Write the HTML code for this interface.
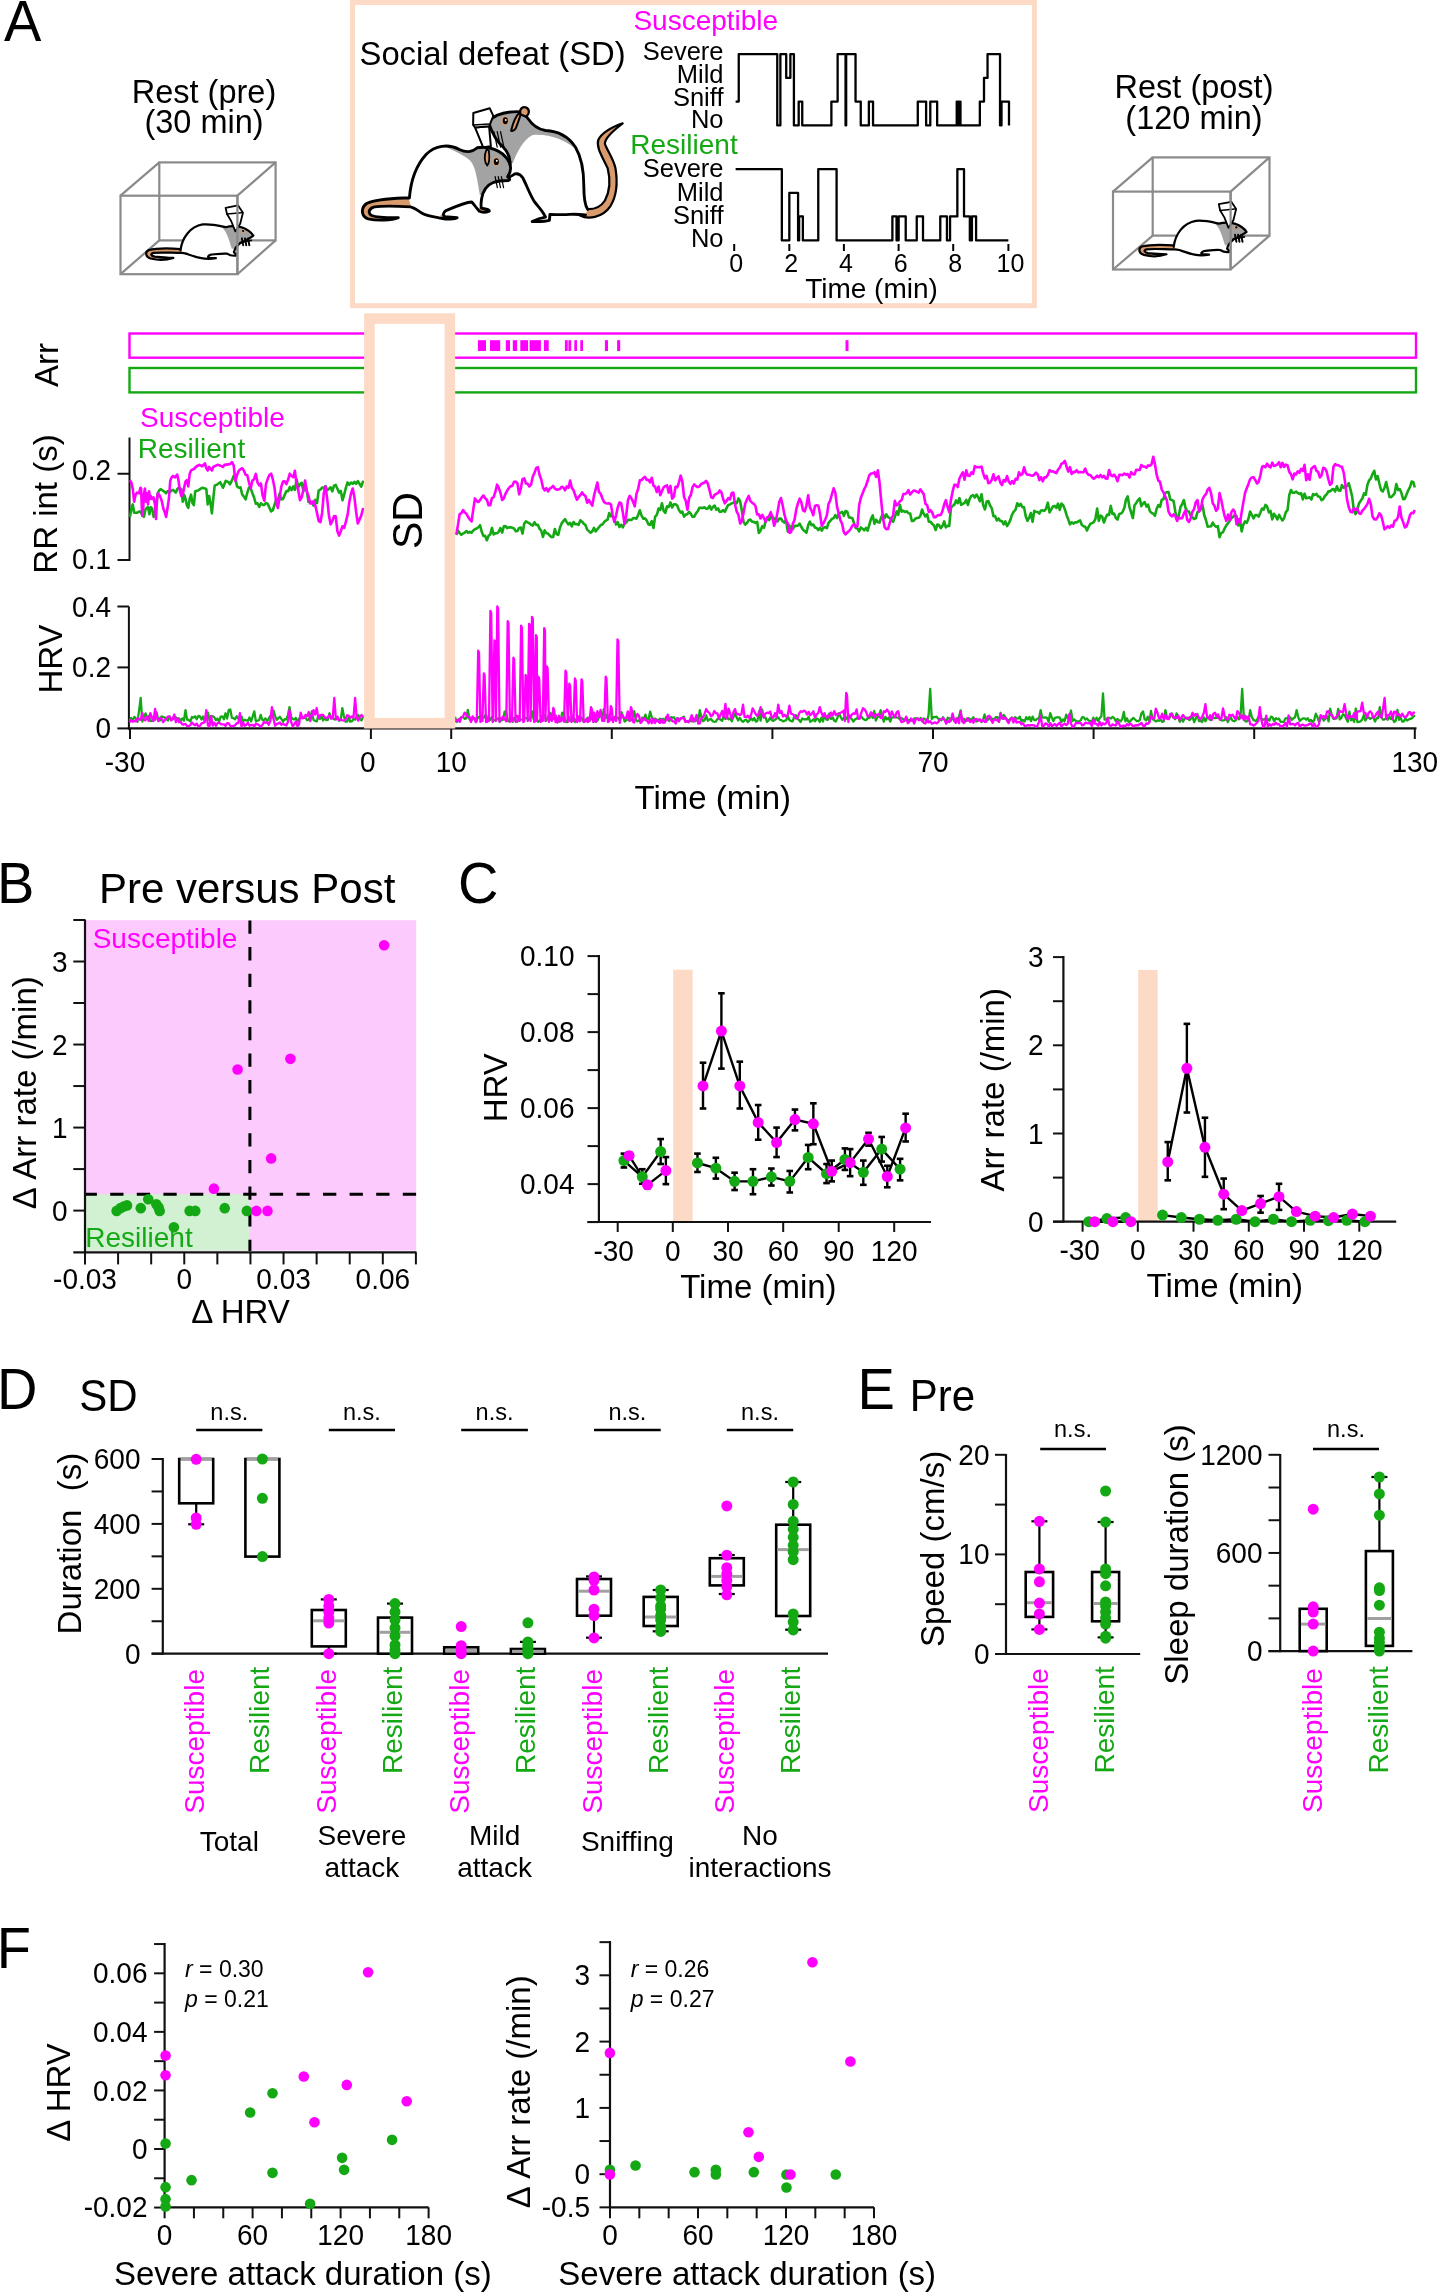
<!DOCTYPE html>
<html><head><meta charset="utf-8"><style>
html,body{margin:0;padding:0;background:#fff;}
svg{display:block;will-change:transform;}
text{font-family:"Liberation Sans", sans-serif;}
</style></head><body>
<svg width="1441" height="2295" viewBox="0 0 1441 2295">
<rect width="1441" height="2295" fill="#fff"/>
<text x="0" y="0" font-size="56" text-anchor="start" fill="#000" transform="translate(4,40.8) scale(1,1.04)">A</text>
<text x="204" y="103" font-size="32.5" text-anchor="middle" fill="#000">Rest (pre)</text>
<text x="204" y="132.9" font-size="32.5" text-anchor="middle" fill="#000">(30 min)</text>
<text x="1194" y="98.4" font-size="32.5" text-anchor="middle" fill="#000">Rest (post)</text>
<text x="1194" y="128.5" font-size="32.5" text-anchor="middle" fill="#000">(120 min)</text>
<rect x="159.3" y="162.4" width="116.3" height="78" fill="none" stroke="#8a8a8a" stroke-width="2.2"/>
<rect x="120.5" y="195.7" width="116.9" height="78.5" fill="none" stroke="#8a8a8a" stroke-width="2.2"/>
<line x1="120.5" y1="195.7" x2="159.3" y2="162.4" stroke="#8a8a8a" stroke-width="2.2"/>
<line x1="237.4" y1="195.7" x2="275.6" y2="162.4" stroke="#8a8a8a" stroke-width="2.2"/>
<line x1="120.5" y1="274.2" x2="159.3" y2="240.4" stroke="#8a8a8a" stroke-width="2.2"/>
<line x1="237.4" y1="274.2" x2="275.6" y2="240.4" stroke="#8a8a8a" stroke-width="2.2"/>
<rect x="1152.7" y="157.4" width="116.8" height="78.2" fill="none" stroke="#8a8a8a" stroke-width="2.2"/>
<rect x="1113" y="191.6" width="117.6" height="77.9" fill="none" stroke="#8a8a8a" stroke-width="2.2"/>
<line x1="1113" y1="191.6" x2="1152.7" y2="157.4" stroke="#8a8a8a" stroke-width="2.2"/>
<line x1="1230.6" y1="191.6" x2="1269.5" y2="157.4" stroke="#8a8a8a" stroke-width="2.2"/>
<line x1="1113" y1="269.5" x2="1152.7" y2="235.6" stroke="#8a8a8a" stroke-width="2.2"/>
<line x1="1230.6" y1="269.5" x2="1269.5" y2="235.6" stroke="#8a8a8a" stroke-width="2.2"/>
<rect x="352.5" y="2.5" width="681.9" height="303.2" fill="none" stroke="#FDDAC6" stroke-width="5"/>
<text x="359.5" y="65" font-size="32.8" text-anchor="start" fill="#000">Social defeat (SD)</text>
<text x="633.4" y="30" font-size="28" text-anchor="start" fill="#FF00FF">Susceptible</text>
<text x="630.3" y="154.2" font-size="28" text-anchor="start" fill="#14A914">Resilient</text>
<text x="723.5" y="59.6" font-size="25.5" text-anchor="end" fill="#000">Severe</text>
<text x="723.5" y="83.1" font-size="25.5" text-anchor="end" fill="#000">Mild</text>
<text x="723.5" y="106" font-size="25.5" text-anchor="end" fill="#000">Sniff</text>
<text x="723.5" y="128.3" font-size="25.5" text-anchor="end" fill="#000">No</text>
<text x="723.5" y="177.2" font-size="25.5" text-anchor="end" fill="#000">Severe</text>
<text x="723.5" y="200.7" font-size="25.5" text-anchor="end" fill="#000">Mild</text>
<text x="723.5" y="223.6" font-size="25.5" text-anchor="end" fill="#000">Sniff</text>
<text x="723.5" y="246.5" font-size="25.5" text-anchor="end" fill="#000">No</text>
<polyline points="735.62,101.6 738.74,101.6 738.74,54.2 777.26,54.2 777.26,125.4 780.38,125.4 780.38,54.2 786.21,54.2 786.21,77.9 790.37,77.9 790.37,54.2 793.91,54.2 793.91,125.4 798.7,125.4 798.7,101.6 802.24,101.6 802.24,125.4 831.39,125.4 831.39,101.6 837.63,101.6 837.63,54.2 845.55,54.2 845.55,125.4 846.17,125.4 846.17,54.2 855.54,54.2 855.54,101.6 860.75,101.6 860.75,125.4 868.87,125.4 868.87,101.6 873.03,101.6 873.03,125.4 917.79,125.4 917.79,101.6 926.12,101.6 926.12,125.4 930.29,125.4 930.29,101.6 937.16,101.6 937.16,125.4 956.73,125.4 956.73,101.6 957.98,101.6 957.98,125.4 959.23,125.4 959.23,101.6 960.47,101.6 960.47,125.4 979.84,125.4 979.84,101.6 984,101.6 984,77.9 987.54,77.9 987.54,54.2 1000.03,54.2 1000.03,125.4 1001.49,125.4 1001.49,101.6 1008.99,101.6 1008.99,125.4" fill="none" stroke="#000" stroke-width="2.3" stroke-linejoin="round" stroke-linejoin="miter" stroke-linecap="butt"/>
<polyline points="735.62,169.2 781.84,169.2 781.84,240.4 789.33,240.4 789.33,192.9 798.08,192.9 798.08,240.4 799.12,240.4 799.12,216.4 802.86,216.4 802.86,240.4 818.27,240.4 818.27,169.2 836.59,169.2 836.59,240.4 892.39,240.4 892.39,216.4 896.56,216.4 896.56,240.4 898.64,240.4 898.64,216.4 905.72,216.4 905.72,240.4 916.75,240.4 916.75,216.4 923,216.4 923,240.4 940.28,240.4 940.28,216.4 946.94,216.4 946.94,240.4 950.06,240.4 950.06,216.4 957.35,216.4 957.35,169.2 964.01,169.2 964.01,216.4 969.84,216.4 969.84,240.4 971.93,240.4 971.93,216.4 976.09,216.4 976.09,240.4 1008.36,240.4" fill="none" stroke="#000" stroke-width="2.3" stroke-linejoin="round" stroke-linejoin="miter" stroke-linecap="butt"/>
<line x1="734.2" y1="244" x2="734.2" y2="251" stroke="#000" stroke-width="2"/>
<text x="0" y="0" font-size="25" text-anchor="middle" fill="#000" transform="translate(736.2,271.8) scale(1,1.04)">0</text>
<line x1="789.3" y1="244" x2="789.3" y2="251" stroke="#000" stroke-width="2"/>
<text x="0" y="0" font-size="25" text-anchor="middle" fill="#000" transform="translate(791.3,271.8) scale(1,1.04)">2</text>
<line x1="843.9" y1="244" x2="843.9" y2="251" stroke="#000" stroke-width="2"/>
<text x="0" y="0" font-size="25" text-anchor="middle" fill="#000" transform="translate(845.9,271.8) scale(1,1.04)">4</text>
<line x1="898.6" y1="244" x2="898.6" y2="251" stroke="#000" stroke-width="2"/>
<text x="0" y="0" font-size="25" text-anchor="middle" fill="#000" transform="translate(900.6,271.8) scale(1,1.04)">6</text>
<line x1="953.2" y1="244" x2="953.2" y2="251" stroke="#000" stroke-width="2"/>
<text x="0" y="0" font-size="25" text-anchor="middle" fill="#000" transform="translate(955.2,271.8) scale(1,1.04)">8</text>
<line x1="1008.4" y1="244" x2="1008.4" y2="251" stroke="#000" stroke-width="2"/>
<text x="0" y="0" font-size="25" text-anchor="middle" fill="#000" transform="translate(1010.4,271.8) scale(1,1.04)">10</text>
<text x="871.5" y="297.7" font-size="28" text-anchor="middle" fill="#000">Time (min)</text>
<rect x="129.5" y="333.5" width="1286.5" height="24.2" fill="none" stroke="#FF00FF" stroke-width="2.4"/>
<rect x="129.5" y="368" width="1286.5" height="24.4" fill="none" stroke="#14A914" stroke-width="2.4"/>
<rect x="477.9" y="340.2" width="8.1" height="10.8" fill="#FF00FF" stroke="none" stroke-width="0"/>
<rect x="490" y="340.2" width="10.2" height="10.8" fill="#FF00FF" stroke="none" stroke-width="0"/>
<rect x="505.8" y="340.2" width="4.2" height="10.8" fill="#FF00FF" stroke="none" stroke-width="0"/>
<rect x="512.8" y="340.2" width="4.3" height="10.8" fill="#FF00FF" stroke="none" stroke-width="0"/>
<rect x="520.3" y="340.2" width="7.8" height="10.8" fill="#FF00FF" stroke="none" stroke-width="0"/>
<rect x="529.6" y="340.2" width="11.3" height="10.8" fill="#FF00FF" stroke="none" stroke-width="0"/>
<rect x="543.9" y="340.2" width="4.8" height="10.8" fill="#FF00FF" stroke="none" stroke-width="0"/>
<rect x="564.9" y="340.2" width="2.8" height="10.8" fill="#FF00FF" stroke="none" stroke-width="0"/>
<rect x="568.4" y="340.2" width="2.8" height="10.8" fill="#FF00FF" stroke="none" stroke-width="0"/>
<rect x="574.3" y="340.2" width="2.7" height="10.8" fill="#FF00FF" stroke="none" stroke-width="0"/>
<rect x="580.3" y="340.2" width="2.7" height="10.8" fill="#FF00FF" stroke="none" stroke-width="0"/>
<rect x="604.9" y="340.2" width="3.1" height="10.8" fill="#FF00FF" stroke="none" stroke-width="0"/>
<rect x="617.1" y="340.2" width="3.1" height="10.8" fill="#FF00FF" stroke="none" stroke-width="0"/>
<rect x="845.5" y="340.2" width="3" height="10.8" fill="#FF00FF" stroke="none" stroke-width="0"/>
<text x="0" y="0" font-size="33" text-anchor="middle" fill="#000" transform="translate(57.5,365) rotate(-90)">Arr</text>
<text x="140.05" y="426.9" font-size="28" text-anchor="start" fill="#FF00FF">Susceptible</text>
<text x="137.8" y="457.5" font-size="28" text-anchor="start" fill="#14A914">Resilient</text>
<line x1="129.5" y1="437.5" x2="129.5" y2="561" stroke="#111" stroke-width="2"/>
<line x1="117.5" y1="473.75" x2="129.5" y2="473.75" stroke="#111" stroke-width="2"/>
<line x1="117.5" y1="560" x2="129.5" y2="560" stroke="#111" stroke-width="2"/>
<text x="0" y="0" font-size="28" text-anchor="end" fill="#000" transform="translate(111,480.3) scale(1,1.04)">0.2</text>
<text x="0" y="0" font-size="28" text-anchor="end" fill="#000" transform="translate(111,568.6) scale(1,1.04)">0.1</text>
<text x="0" y="0" font-size="33" text-anchor="middle" fill="#000" transform="translate(57,504) rotate(-90)">RR int (s)</text>
<line x1="128.9" y1="606.5" x2="128.9" y2="729.5" stroke="#111" stroke-width="2"/>
<line x1="117.4" y1="606.5" x2="128.9" y2="606.5" stroke="#111" stroke-width="2"/>
<text x="0" y="0" font-size="28" text-anchor="end" fill="#000" transform="translate(111,616.5) scale(1,1.04)">0.4</text>
<line x1="117.4" y1="667.4" x2="128.9" y2="667.4" stroke="#111" stroke-width="2"/>
<text x="0" y="0" font-size="28" text-anchor="end" fill="#000" transform="translate(111,677.4) scale(1,1.04)">0.2</text>
<line x1="117.4" y1="728.4" x2="128.9" y2="728.4" stroke="#111" stroke-width="2"/>
<text x="0" y="0" font-size="28" text-anchor="end" fill="#000" transform="translate(111,738.4) scale(1,1.04)">0</text>
<text x="0" y="0" font-size="33" text-anchor="middle" fill="#000" transform="translate(61.5,659) rotate(-90)">HRV</text>
<line x1="128" y1="728.4" x2="1416.5" y2="728.4" stroke="#111" stroke-width="2.2"/>
<line x1="130" y1="728.4" x2="130" y2="739" stroke="#111" stroke-width="2"/>
<line x1="370.9" y1="728.4" x2="370.9" y2="739" stroke="#111" stroke-width="2"/>
<line x1="451.2" y1="728.4" x2="451.2" y2="739" stroke="#111" stroke-width="2"/>
<line x1="611.8" y1="728.4" x2="611.8" y2="739" stroke="#111" stroke-width="2"/>
<line x1="772.4" y1="728.4" x2="772.4" y2="739" stroke="#111" stroke-width="2"/>
<line x1="933" y1="728.4" x2="933" y2="739" stroke="#111" stroke-width="2"/>
<line x1="1093.6" y1="728.4" x2="1093.6" y2="739" stroke="#111" stroke-width="2"/>
<line x1="1254.2" y1="728.4" x2="1254.2" y2="739" stroke="#111" stroke-width="2"/>
<line x1="1414.8" y1="728.4" x2="1414.8" y2="739" stroke="#111" stroke-width="2"/>
<text x="0" y="0" font-size="28" text-anchor="middle" fill="#000" transform="translate(125,772) scale(1,1.04)">-30</text>
<text x="0" y="0" font-size="28" text-anchor="middle" fill="#000" transform="translate(367.9,772) scale(1,1.04)">0</text>
<text x="0" y="0" font-size="28" text-anchor="middle" fill="#000" transform="translate(451.2,772) scale(1,1.04)">10</text>
<text x="0" y="0" font-size="28" text-anchor="middle" fill="#000" transform="translate(933,772) scale(1,1.04)">70</text>
<text x="0" y="0" font-size="28" text-anchor="middle" fill="#000" transform="translate(1414.8,772) scale(1,1.04)">130</text>
<text x="712.8" y="808.6" font-size="33" text-anchor="middle" fill="#000">Time (min)</text>
<polyline points="130,516.9 131.39,508.58 132.78,504.41 134.16,512.74 136.94,512.74 139.72,511.35 141.1,512.74 142.49,515.52 143.88,516.9 145.27,509.97 146.66,507.88 148.04,507.19 149.43,514.13 150.82,507.19 152.21,508.58 153.59,516.9 154.98,512.74 156.37,504.41 157.76,493.31 159.15,490.53 160.53,489.15 162.62,490.53 164.7,491.92 166.09,493.31 167.47,491.23 170.25,491.92 171.64,490.53 173.03,489.84 175.8,492.62 177.19,489.15 178.58,487.76 181.35,489.15 182.74,501.64 184.13,494.7 185.52,498.86 186.9,505.11 188.29,507.88 189.68,498.86 191.07,494.7 192.46,503.03 193.84,505.11 195.23,491.23 198.01,490.53 200.09,489.15 202.17,487.76 204.95,488.45 206.34,489.15 207.72,504.41 209.11,496.09 210.5,503.03 211.89,513.44 213.28,498.86 214.66,485.68 217.44,484.29 220.22,482.21 222.99,487.76 225.77,480.82 228.54,482.21 229.93,484.29 232,480.39 233.7,475.89 235.4,479.38 237.1,486.51 238.8,487.76 240.5,487.3 242.2,494.54 243.9,496.63 245.6,499.43 247.3,492.68 249,487.58 250.7,488.4 252.4,493.16 254.1,497.51 255.8,503.75 257.5,503.27 259.2,506.95 260.9,503.3 262.6,504.84 264.3,504.84 266,502.86 267.7,503.79 269.4,507.75 271.1,511.46 272.8,510.29 274.5,504.76 276.2,499.52 277.9,500.21 279.6,493.83 281.3,499.4 283,499.05 284.7,495.04 286.4,491 288.1,491.18 289.8,487.04 291.5,490.18 293.2,486.45 294.9,489.93 296.6,479.53 298.3,487.34 300,484.48 301.7,482.78 303.4,491.06 305.1,484.4 306.8,490.61 308.5,502.01 310.2,501.48 311.9,502.26 313.6,505.58 315.3,499.88 317,503.2 318.7,490.36 320.4,489.6 322.1,487.55 323.8,488.12 325.5,486.04 327.2,490.23 328.9,488.92 330.6,487.28 332.3,491.34 334,485.62 335.7,484.95 337.4,488.82 339.1,492.64 340.8,490.9 342.5,500.33 344.2,494.44 345.9,487.57 347.6,482.42 349.3,484.67 351,482.67 352.7,483.72 354.4,481.97 356.1,483.8 357.8,481.08 359.5,483.76 361.2,486.7 362.9,481.76 363.57,482.46" fill="none" stroke="#14A914" stroke-width="2.6" stroke-linejoin="round"/>
<polyline points="456.25,534.97 457.95,530.36 459.65,533.06 461.35,534.78 463.05,533.55 464.75,532.67 466.45,531.02 468.15,532.79 469.85,531.85 471.55,532.73 473.25,530.58 474.95,529.25 476.65,528.47 478.35,527.22 480.05,525.22 481.75,531.84 483.45,535.97 485.15,535.92 486.85,540.23 488.55,535.85 490.25,534.47 491.95,527.93 493.65,534.43 495.35,533.31 497.05,533.16 498.75,531.67 500.45,528.19 502.15,532.55 503.85,526.4 505.55,526.1 507.25,528.18 508.95,527.33 510.65,527.3 512.35,527.81 514.05,528.41 515.75,531.26 517.45,530.92 519.15,527.95 520.85,527.59 522.55,533.62 524.25,523.48 525.95,521.42 527.65,522.45 529.35,523.28 531.05,524.63 532.75,525.66 534.45,522.28 536.15,524.89 537.85,524.73 539.55,528.69 541.25,530.72 542.95,536.98 544.65,530.37 546.35,533.16 548.05,533.55 549.75,535.53 551.45,537.08 553.15,537.06 554.85,528.96 556.55,534.06 558.25,534.86 559.95,527.78 561.65,523.37 563.35,521.15 565.05,519.07 566.75,522.19 568.45,524.37 570.15,522.84 571.85,526.39 573.55,522.01 575.25,524.15 576.95,524.11 578.65,524.82 580.35,520.26 582.05,521.67 583.75,523.66 585.45,525.06 587.15,529.58 588.85,531.15 590.55,532.68 592.25,531.41 593.95,527.92 595.65,531.49 597.35,529.07 599.05,527.09 600.75,525.01 602.45,524.44 604.15,522.04 605.85,520.53 607.55,519.59 609.25,513.11 610.95,516.26 612.65,515.84 614.35,518.5 616.05,524.61 617.75,522.24 619.45,527.02 621.15,524.78 622.85,527.33 624.55,523.56 626.25,522.49 627.95,519.89 629.65,519.78 631.35,520.06 633.05,518.34 634.75,518.02 636.45,518.76 638.15,514.9 639.85,510.27 641.55,515.73 643.25,518.71 644.95,518.32 646.65,520.35 648.35,524.35 650.05,525.01 651.75,521.12 653.45,528 655.15,516.62 656.85,514.88 658.55,508.56 660.25,509.93 661.95,503.3 663.65,510.96 665.35,512.87 667.05,506.3 668.75,506.9 670.45,502.41 672.15,507.48 673.85,504.35 675.55,504.23 677.25,505.6 678.95,510.11 680.65,512.53 682.35,511.57 684.05,516.64 685.75,514.71 687.45,514.03 689.15,511.9 690.85,513.95 692.55,516.83 694.25,516.66 695.95,513.35 697.65,511.2 699.35,507.86 701.05,507.75 702.75,507.96 704.45,507.3 706.15,508.74 707.85,508.46 709.55,505.91 711.25,509.56 712.95,506.97 714.65,505.57 716.35,509.72 718.05,508.46 719.75,511.83 721.45,511.67 723.15,510.05 724.85,511.85 726.55,508.07 728.25,504.93 729.95,504.51 731.65,503.35 733.35,502.6 735.05,502.28 736.75,503.37 738.45,498.44 740.15,501.27 741.85,510.72 743.55,522.13 745.25,524.61 746.95,523.07 748.65,520.12 750.35,519.59 752.05,521.6 753.75,521.86 755.45,522.89 757.15,521.92 758.85,532.98 760.55,530.64 762.25,526.17 763.95,527.9 765.65,521.02 767.35,518.61 769.05,520.16 770.75,517.21 772.45,516.55 774.15,518.88 775.85,519.1 777.55,521.46 779.25,518.58 780.95,518.53 782.65,521.25 784.35,522.59 786.05,519.66 787.75,531.57 789.45,525.55 791.15,529.51 792.85,529.13 794.55,525.87 796.25,525.86 797.95,525.55 799.65,523.65 801.35,526.99 803.05,529.84 804.75,531.21 806.45,532.72 808.15,525.35 809.85,521.59 811.55,525.25 813.25,524.49 814.95,527.51 816.65,527.99 818.35,530.07 820.05,527.78 821.75,530.7 823.45,527.66 825.15,527.09 826.85,528.16 828.55,522.79 830.25,521 831.95,518.88 833.65,518.06 835.35,515.18 837.05,518.08 838.75,513.75 840.45,512.87 842.15,511.8 843.85,515.86 845.55,511.03 847.25,511.69 848.95,517.35 850.65,517.61 852.35,518.31 854.05,522.94 855.75,528.11 857.45,528.53 859.15,531.33 860.85,527.43 862.55,528.68 864.25,530.36 865.95,527.93 867.65,530.54 869.35,524.57 871.05,518.77 872.75,515.45 874.45,523.77 876.15,519.71 877.85,522.19 879.55,522.51 881.25,517.07 882.95,514.23 884.65,518.13 886.35,514.4 888.05,517.08 889.75,518.02 891.45,520.27 893.15,521.86 894.85,516.91 896.55,511.35 898.25,514.81 899.95,505.09 901.65,511.68 903.35,510.77 905.05,512.04 906.75,511.28 908.45,513.25 910.15,513.57 911.85,521.08 913.55,520.9 915.25,518.73 916.95,518 918.65,517.81 920.35,515.97 922.05,509.47 923.75,514 925.45,516.46 927.15,514.28 928.85,521.67 930.55,521.81 932.25,523.9 933.95,525.54 935.65,530.02 937.35,524.5 939.05,525.03 940.75,528.25 942.45,525.87 944.15,521.36 945.85,527.39 947.55,525.89 949.25,525.95 950.95,507.82 952.65,505.79 954.35,504.73 956.05,500.41 957.75,503.13 959.45,498.12 961.15,504.84 962.85,503.88 964.55,502.79 966.25,499.91 967.95,505.03 969.65,498.84 971.35,495.88 973.05,495.08 974.75,497.54 976.45,494.56 978.15,497.13 979.85,501.27 981.55,494.24 983.25,505.6 984.95,509.46 986.65,501.41 988.35,500.98 990.05,505.53 991.75,508.17 993.45,516.14 995.15,516.17 996.85,520.5 998.55,518.47 1000.25,520.92 1001.95,520.97 1003.65,524.3 1005.35,521.44 1007.05,526.13 1008.75,523.43 1010.45,519.65 1012.15,514.41 1013.85,511.53 1015.55,509.68 1017.25,503.34 1018.95,505.81 1020.65,503.85 1022.35,507.21 1024.05,507.33 1025.75,516.18 1027.45,520.8 1029.15,517.82 1030.85,513.01 1032.55,521.82 1034.25,510.87 1035.95,511.82 1037.65,511.97 1039.35,513.69 1041.05,510.47 1042.75,510.42 1044.45,510.86 1046.15,508.45 1047.85,502.7 1049.55,512.41 1051.25,509.37 1052.95,506.54 1054.65,505.93 1056.35,507.9 1058.05,503.6 1059.75,509.88 1061.45,503.58 1063.15,505.25 1064.85,509.22 1066.55,514.98 1068.25,519.3 1069.95,524.35 1071.65,522.29 1073.35,523.58 1075.05,522.42 1076.75,522.41 1078.45,521.18 1080.15,520.43 1081.85,525.03 1083.55,526.2 1085.25,526.81 1086.95,530.57 1088.65,526.79 1090.35,523.82 1092.05,523.15 1093.75,522.14 1095.45,518.81 1097.15,508.6 1098.85,520.95 1100.55,515.47 1102.25,516.86 1103.95,522.53 1105.65,517.74 1107.35,514.58 1109.05,515.01 1110.75,505.94 1112.45,513.97 1114.15,513.65 1115.85,517.96 1117.55,519.58 1119.25,513.9 1120.95,513.54 1122.65,511.78 1124.35,507.83 1126.05,499.35 1127.75,496.42 1129.45,507.03 1131.15,512.51 1132.85,518.04 1134.55,505.23 1136.25,503 1137.95,500.05 1139.65,498.37 1141.35,506.12 1143.05,503.49 1144.75,502.12 1146.45,506.6 1148.15,504.72 1149.85,511.16 1151.55,512.83 1153.25,513.71 1154.95,515.8 1156.65,508.79 1158.35,505.15 1160.05,506.88 1161.75,499.7 1163.45,499.32 1165.15,492.9 1166.85,492.21 1168.55,491.99 1170.25,499.45 1171.95,499.92 1173.65,501.19 1175.35,511.72 1177.05,519.49 1178.75,515.72 1180.45,507.21 1182.15,504.02 1183.85,500.1 1185.55,507.93 1187.25,511.3 1188.95,511.57 1190.65,515.87 1192.35,517.18 1194.05,518.99 1195.75,518.39 1197.45,512.19 1199.15,511.12 1200.85,507.67 1202.55,505.15 1204.25,515.2 1205.95,520.05 1207.65,526.67 1209.35,526.54 1211.05,526.33 1212.75,522.67 1214.45,525.33 1216.15,526.9 1217.85,526.13 1219.55,537.27 1221.25,532.89 1222.95,532.23 1224.65,528.36 1226.35,525.38 1228.05,523.28 1229.75,520.87 1231.45,518.19 1233.15,516.75 1234.85,514.75 1236.55,515.99 1238.25,525.47 1239.95,519.24 1241.65,531.39 1243.35,524.52 1245.05,521.48 1246.75,522.77 1248.45,518.61 1250.15,511.53 1251.85,514.98 1253.55,518.52 1255.25,515.04 1256.95,515.17 1258.65,516.61 1260.35,512.82 1262.05,508.55 1263.75,509.56 1265.45,504.87 1267.15,506.53 1268.85,512.32 1270.55,510.92 1272.25,519.39 1273.95,513.8 1275.65,516.12 1277.35,519.43 1279.05,514.84 1280.75,517.87 1282.45,520.43 1284.15,517.94 1285.85,512.12 1287.55,510.05 1289.25,495.19 1290.95,489.97 1292.65,492.72 1294.35,492.72 1296.05,491.63 1297.75,492.96 1299.45,494 1301.15,493.33 1302.85,499.4 1304.55,493.67 1306.25,498.34 1307.95,497.72 1309.65,497.34 1311.35,499.58 1313.05,494.18 1314.75,494.98 1316.45,493.87 1318.15,496.48 1319.85,496.74 1321.55,500.25 1323.25,499.18 1324.95,495.94 1326.65,494.35 1328.35,491.32 1330.05,491.44 1331.75,489.77 1333.45,488.99 1335.15,491.39 1336.85,486.35 1338.55,490.5 1340.25,490.77 1341.95,485.11 1343.65,487.77 1345.35,486.22 1347.05,485.98 1348.75,483.18 1350.45,489.41 1352.15,496.56 1353.85,510.56 1355.55,514.08 1357.25,509.94 1358.95,503.52 1360.65,500.84 1362.35,498.51 1364.05,493.28 1365.75,494.66 1367.45,484.65 1369.15,480.33 1370.85,478.31 1372.55,473.87 1374.25,470.75 1375.95,479.41 1377.65,476.1 1379.35,483.53 1381.05,489.98 1382.75,491.42 1384.45,488.04 1386.15,482.05 1387.85,489.51 1389.55,497.05 1391.25,497.2 1392.95,495.41 1394.65,493.21 1396.35,484.1 1398.05,490.03 1399.75,489.14 1401.45,493.06 1403.15,499.17 1404.85,498.9 1406.55,494.4 1408.25,490.31 1409.95,487.01 1411.65,481.51 1413.35,482.19 1414.75,487.46" fill="none" stroke="#14A914" stroke-width="2.6" stroke-linejoin="round"/>
<polyline points="130,480.12 131.39,482.9 132.78,489.15 134.16,501.64 135.55,494.7 136.94,492.62 139.02,493.31 140.41,487.76 141.1,488.45 142.14,515.52 143.19,508.58 143.88,494.7 144.92,488.45 145.96,501.64 147,493.31 148.04,504.41 149.08,491.23 150.12,498.86 150.82,496.09 152.21,498.86 153.59,497.47 154.98,504.41 156.02,518.99 157.06,498.86 157.76,493.31 159.15,494.7 160.53,497.47 161.92,501.64 163.31,508.58 164.7,512.05 166.09,516.9 167.47,508.58 168.86,498.86 170.25,480.82 171.64,477.35 173.03,475.96 175.11,477.35 177.19,474.57 178.58,480.82 179.97,491.23 181.35,496.09 182.74,494.7 184.13,487.76 185.52,481.51 186.9,480.12 188.29,486.37 189.68,473.88 191.07,470.41 193.84,469.02 196.62,466.25 199.4,464.86 202.17,466.25 204.95,463.47 206.34,468.33 207.72,470.41 209.11,466.94 211.89,470.41 213.28,466.94 217.44,464.86 220.22,465.55 222.99,466.94 224.38,464.86 229.93,464.16 232,462.07 233.7,465.47 235.4,480.94 237.1,474.84 238.8,470.71 240.5,469.11 242.2,468.28 243.9,470.84 245.6,474.68 247.3,475.23 249,482.55 250.7,488.4 252.4,480.57 254.1,479.2 255.8,473.87 257.5,482.29 259.2,485.51 260.9,483.46 262.6,495.47 264.3,500.67 266,483.9 267.7,479.07 269.4,475.07 271.1,473.67 272.8,479.21 274.5,487.43 276.2,502.79 277.9,508.02 279.6,497.41 281.3,486.72 283,481.64 284.7,481.34 286.4,484.15 288.1,479.53 289.8,473.67 291.5,475.92 293.2,477.22 294.9,470.82 296.6,484.3 298.3,490.41 300,500.17 301.7,497.18 303.4,489.69 305.1,480.6 306.8,491.54 308.5,495.91 310.2,503.37 311.9,503.57 313.6,501.08 315.3,505.4 317,512.99 318.7,520.95 320.4,522.21 322.1,512.93 323.8,493.13 325.5,486.43 327.2,498.83 328.9,515.32 330.6,524.35 332.3,521.11 334,516.17 335.7,516.34 337.4,531.19 339.1,535.64 340.8,531.23 342.5,526.28 344.2,527.9 345.9,521.56 347.6,514.92 349.3,502.2 351,493.58 352.7,488.51 354.4,497.01 356.1,511.7 357.8,523.54 359.5,519.61 361.2,515.62 362.9,509.06 363.57,509.94" fill="none" stroke="#FF00FF" stroke-width="2.6" stroke-linejoin="round"/>
<polyline points="456.25,534.5 457.95,525.01 459.65,514.12 461.35,513.06 463.05,510.08 464.75,512.51 466.45,513.75 468.15,517.08 469.85,519.46 471.55,521.48 473.25,509.65 474.95,498.43 476.65,501.07 478.35,501.99 480.05,500.22 481.75,497.29 483.45,495.52 485.15,498.18 486.85,499.71 488.55,505.29 490.25,505.25 491.95,498.04 493.65,497.17 495.35,492.01 497.05,484.69 498.75,487.89 500.45,492.8 502.15,499.96 503.85,498.25 505.55,493.65 507.25,490.51 508.95,487.84 510.65,486.24 512.35,485.7 514.05,481.68 515.75,481.53 517.45,483.39 519.15,494.34 520.85,488.36 522.55,479.06 524.25,478.41 525.95,483.38 527.65,483.81 529.35,486.48 531.05,484.53 532.75,476.69 534.45,472.92 536.15,468.07 537.85,467 539.55,475.07 541.25,479.46 542.95,487.47 544.65,490.27 546.35,488.24 548.05,491.35 549.75,488.71 551.45,487.68 553.15,485.93 554.85,488.56 556.55,489.66 558.25,489.55 559.95,489.11 561.65,486.77 563.35,487.41 565.05,490.28 566.75,486.42 568.45,487.8 570.15,480.46 571.85,488.19 573.55,490.1 575.25,495.34 576.95,499.65 578.65,497.17 580.35,495.11 582.05,492.45 583.75,494.97 585.45,495.94 587.15,502.76 588.85,499.8 590.55,502.84 592.25,505.68 593.95,495.91 595.65,489.41 597.35,482.6 599.05,492.16 600.75,493.94 602.45,498.52 604.15,502.23 605.85,503.17 607.55,503.56 609.25,503.31 610.95,504.39 612.65,515.07 614.35,521.86 616.05,515.56 617.75,507.33 619.45,502.51 621.15,503.29 622.85,512.43 624.55,523.94 626.25,515.39 627.95,500.21 629.65,495.88 631.35,498.19 633.05,501.81 634.75,506.32 636.45,493.88 638.15,489.01 639.85,480.28 641.55,480.18 643.25,478.2 644.95,476.88 646.65,479.93 648.35,479.68 650.05,482.33 651.75,477.73 653.45,485.62 655.15,486.91 656.85,491.98 658.55,486.47 660.25,495.29 661.95,491.3 663.65,487.23 665.35,485.91 667.05,485.43 668.75,492.58 670.45,485.9 672.15,498.74 673.85,496.71 675.55,486.69 677.25,487.32 678.95,482.33 680.65,475.67 682.35,481.46 684.05,496.93 685.75,500.69 687.45,509.73 689.15,497.73 690.85,494.96 692.55,487.11 694.25,484.39 695.95,486.08 697.65,487.14 699.35,486.52 701.05,484.11 702.75,483.28 704.45,482.48 706.15,480.8 707.85,483.74 709.55,490.16 711.25,497.27 712.95,497.98 714.65,494.67 716.35,493.94 718.05,492.91 719.75,490.48 721.45,492.46 723.15,498.93 724.85,503.31 726.55,500.98 728.25,498.15 729.95,499.49 731.65,493.11 733.35,492.55 735.05,504.46 736.75,511.66 738.45,515.04 740.15,523.61 741.85,521.09 743.55,512.85 745.25,503.51 746.95,499.44 748.65,495.98 750.35,500.92 752.05,502.72 753.75,503.81 755.45,505.97 757.15,514.39 758.85,514.21 760.55,518.52 762.25,514.94 763.95,518.2 765.65,521.74 767.35,517.14 769.05,516.35 770.75,512.12 772.45,517.81 774.15,525.75 775.85,520.88 777.55,512.01 779.25,502.06 780.95,498.05 782.65,505.24 784.35,514.18 786.05,520.77 787.75,523.54 789.45,532.76 791.15,532.04 792.85,523.72 794.55,519.63 796.25,509.43 797.95,503.34 799.65,498.67 801.35,502.4 803.05,510.39 804.75,511.42 806.45,505.5 808.15,495.26 809.85,507.19 811.55,510.62 813.25,515.25 814.95,505.95 816.65,505.32 818.35,505.71 820.05,513.83 821.75,525.84 823.45,523.32 825.15,519.68 826.85,515.39 828.55,503.82 830.25,500.48 831.95,494 833.65,488.33 835.35,492.92 837.05,506.83 838.75,513.43 840.45,520.15 842.15,524.1 843.85,532.29 845.55,534.29 847.25,532.5 848.95,531.03 850.65,528.99 852.35,525.71 854.05,524.27 855.75,526.65 857.45,526.2 859.15,505.29 860.85,497.76 862.55,493.56 864.25,489.05 865.95,485.77 867.65,480.75 869.35,475.1 871.05,473.57 872.75,473.29 874.45,472.23 876.15,476.81 877.85,470.35 879.55,482.51 881.25,501.16 882.95,517.94 884.65,527.05 886.35,529.09 888.05,529.07 889.75,522.93 891.45,518.23 893.15,514.98 894.85,500.89 896.55,505.4 898.25,504.1 899.95,501.2 901.65,499.99 903.35,493.98 905.05,494.03 906.75,492.98 908.45,490.22 910.15,494.5 911.85,492.4 913.55,490.6 915.25,490.72 916.95,491.82 918.65,492.55 920.35,489.3 922.05,491.82 923.75,494.35 925.45,503.72 927.15,505.16 928.85,511.99 930.55,510.17 932.25,512.56 933.95,517.22 935.65,517.11 937.35,515.45 939.05,515.08 940.75,515.01 942.45,511.02 944.15,504.56 945.85,500.2 947.55,506.74 949.25,512.14 950.95,500.01 952.65,491.41 954.35,484.73 956.05,484.77 957.75,487.06 959.45,478.49 961.15,475.14 962.85,472.26 964.55,479.75 966.25,470.38 967.95,475.7 969.65,476.06 971.35,472.47 973.05,473.85 974.75,466.18 976.45,467.23 978.15,467.22 979.85,467.12 981.55,466.66 983.25,473.37 984.95,478.33 986.65,475.96 988.35,483.28 990.05,482.63 991.75,479.81 993.45,474.28 995.15,480.46 996.85,478.2 998.55,476.27 1000.25,482.44 1001.95,485.01 1003.65,480.04 1005.35,481.46 1007.05,476.02 1008.75,481.44 1010.45,483.83 1012.15,481.01 1013.85,483.6 1015.55,478.83 1017.25,479.68 1018.95,472.27 1020.65,475.09 1022.35,474.11 1024.05,467.32 1025.75,472.92 1027.45,474.82 1029.15,474.73 1030.85,475.42 1032.55,475.81 1034.25,474.65 1035.95,472.73 1037.65,474.15 1039.35,480.13 1041.05,477.22 1042.75,481.33 1044.45,477.21 1046.15,477.37 1047.85,474.83 1049.55,470.1 1051.25,471.5 1052.95,471.42 1054.65,472.24 1056.35,473.16 1058.05,469.56 1059.75,467.67 1061.45,463.71 1063.15,463.09 1064.85,460.92 1066.55,466.74 1068.25,471.54 1069.95,467.13 1071.65,473.87 1073.35,471.81 1075.05,472.19 1076.75,470.21 1078.45,472.52 1080.15,471.98 1081.85,472.19 1083.55,472.23 1085.25,468.6 1086.95,473.15 1088.65,474.97 1090.35,475.06 1092.05,477.27 1093.75,478.69 1095.45,477.51 1097.15,475.71 1098.85,477.13 1100.55,474.97 1102.25,477.31 1103.95,475.77 1105.65,478.46 1107.35,478.78 1109.05,469.99 1110.75,475.06 1112.45,476.25 1114.15,474.63 1115.85,476.93 1117.55,481.28 1119.25,474.84 1120.95,474.81 1122.65,475.17 1124.35,473.55 1126.05,474.81 1127.75,474.02 1129.45,477.5 1131.15,472.14 1132.85,474.25 1134.55,474.37 1136.25,469.78 1137.95,470 1139.65,469.96 1141.35,464.98 1143.05,466.48 1144.75,466.62 1146.45,467.6 1148.15,465.4 1149.85,465.83 1151.55,464.2 1153.25,456.89 1154.95,464.13 1156.65,474.69 1158.35,480.66 1160.05,481.86 1161.75,489.61 1163.45,492.44 1165.15,496.23 1166.85,500.31 1168.55,511.7 1170.25,514.88 1171.95,516.28 1173.65,514.46 1175.35,516.15 1177.05,520.94 1178.75,517.51 1180.45,518.39 1182.15,518.24 1183.85,513.51 1185.55,510.29 1187.25,519.95 1188.95,521.92 1190.65,518.49 1192.35,512.02 1194.05,509.19 1195.75,502.33 1197.45,500.01 1199.15,511.62 1200.85,509.15 1202.55,499.26 1204.25,496.02 1205.95,494.12 1207.65,489.72 1209.35,487.81 1211.05,493.22 1212.75,503.31 1214.45,505.85 1216.15,510.81 1217.85,508.44 1219.55,493.11 1221.25,499.71 1222.95,508.61 1224.65,516.12 1226.35,520.98 1228.05,514.53 1229.75,520.32 1231.45,511.98 1233.15,509.51 1234.85,511.84 1236.55,524.26 1238.25,519.31 1239.95,522.79 1241.65,512.24 1243.35,502.35 1245.05,492.91 1246.75,488.27 1248.45,483.94 1250.15,479.13 1251.85,477.56 1253.55,477.3 1255.25,479.92 1256.95,483.48 1258.65,481.8 1260.35,475.49 1262.05,466.88 1263.75,465.96 1265.45,467.24 1267.15,463.58 1268.85,466.31 1270.55,467.37 1272.25,462.65 1273.95,466.03 1275.65,465.47 1277.35,464.41 1279.05,462.24 1280.75,467.23 1282.45,462.88 1284.15,466.87 1285.85,464.57 1287.55,465.46 1289.25,471.69 1290.95,474.2 1292.65,479.32 1294.35,473.56 1296.05,474.5 1297.75,471.26 1299.45,472.85 1301.15,468.88 1302.85,470.89 1304.55,464.78 1306.25,480.26 1307.95,474.35 1309.65,479.77 1311.35,468.87 1313.05,467.01 1314.75,466 1316.45,470.81 1318.15,471.92 1319.85,477.42 1321.55,475.14 1323.25,467.83 1324.95,468.4 1326.65,471.54 1328.35,479.24 1330.05,484.84 1331.75,483.04 1333.45,466.68 1335.15,464.18 1336.85,465.13 1338.55,465.18 1340.25,466.43 1341.95,466.8 1343.65,472.28 1345.35,484.08 1347.05,499.61 1348.75,507.17 1350.45,511.67 1352.15,512.33 1353.85,508.23 1355.55,510.14 1357.25,508.39 1358.95,513.28 1360.65,513.86 1362.35,510.63 1364.05,509.02 1365.75,506.61 1367.45,503.92 1369.15,498.78 1370.85,504.45 1372.55,516.53 1374.25,519.28 1375.95,519.43 1377.65,517.19 1379.35,513.27 1381.05,515.11 1382.75,521.53 1384.45,529.32 1386.15,527.91 1387.85,526.27 1389.55,527.75 1391.25,525.41 1392.95,526.64 1394.65,520.73 1396.35,520.23 1398.05,516.93 1399.75,506.46 1401.45,517.71 1403.15,522.1 1404.85,527.48 1406.55,526.32 1408.25,521.51 1409.95,515.11 1411.65,512.77 1413.35,513.16 1414.75,509.95" fill="none" stroke="#FF00FF" stroke-width="2.6" stroke-linejoin="round"/>
<polyline points="129.5,720.78 131.1,717.92 132.7,720.47 134.3,716.86 135.9,718.71 137.5,721.77 139.1,710.45 140.7,698 142.3,721.53 143.9,717.28 145.5,713.39 147.1,718.75 148.7,715.98 150.3,720.85 151.9,721.03 153.5,719.03 155.1,719.7 156.7,712.4 158.3,720.36 159.9,720.52 161.5,716.34 163.1,717.14 164.7,717.34 166.3,718.88 167.9,720.56 169.5,716.38 171.1,719.56 172.7,719.44 174.3,716.37 175.9,717.41 177.5,718.76 179.1,718.43 180.7,720.44 182.3,718.4 183.9,720.69 185.5,710.2 187.1,719.68 188.7,719.92 190.3,721.39 191.9,717.05 193.5,717.62 195.1,716.31 196.7,719.31 198.3,715.93 199.9,716.4 201.5,719.5 203.1,716.45 204.7,721.37 206.3,717.07 207.9,712.51 209.5,720.02 211.1,716.04 212.7,716.31 214.3,717.24 215.9,720.25 217.5,718.58 219.1,721.62 220.7,716.68 222.3,716.41 223.9,719.19 225.5,713.25 227.1,718.53 228.7,710.07 230.3,709.55 231.9,717.86 233.5,718.23 235.1,719.32 236.7,716.27 238.3,718.6 239.9,719.06 241.5,716.5 243.1,721.02 244.7,719.81 246.3,720.45 247.9,720.67 249.5,717.46 251.1,721.51 252.7,716.46 254.3,711.41 255.9,721.4 257.5,720.72 259.1,720.25 260.7,714.83 262.3,719.9 263.9,719.99 265.5,718.44 267.1,721.19 268.7,718.69 270.3,715.89 271.9,717.52 273.5,710.46 275.1,715.83 276.7,719.85 278.3,718.2 279.9,716.82 281.5,719.06 283.1,721.67 284.7,719.09 286.3,719.41 287.9,715.06 289.5,707.15 291.1,716.8 292.7,719.01 294.3,719.44 295.9,717.94 297.5,721.27 299.1,718.79 300.7,716.36 302.3,717.97 303.9,717.72 305.5,717.53 307.1,720.29 308.7,719.44 310.3,716.76 311.9,711.22 313.5,719.89 315.1,720.9 316.7,721.3 318.3,716.03 319.9,718.97 321.5,715.96 323.1,720.53 324.7,717.88 326.3,720.2 327.9,719.83 329.5,713.25 331.1,717.63 332.7,718.14 334.3,719.48 335.9,718.94 337.5,718.03 339.1,720.73 340.7,720.13 342.3,708.05 343.9,716.09 345.5,721.67 347.1,721.55 348.7,717.52 350.3,721.74 351.9,721.21 353.5,719.02 355.1,719.53 356.7,716.96 358.3,714.86 359.9,719.33 361.5,720.42 363.1,716.64" fill="none" stroke="#14A914" stroke-width="2.3" stroke-linejoin="round"/>
<polyline points="455,716.83 456.6,721.97 458.2,721.08 459.8,718.52 461.4,717.21 463,716.83 464.6,718.79 466.2,718.33 467.8,709.85 469.4,718.86 471,721.05 472.6,718.9 474.2,717.85 475.8,718.99 477.4,718.73 479,716.84 480.6,717.81 482.2,718.52 483.8,717.56 485.4,715.07 487,721.92 488.6,719.32 490.2,719.85 491.8,717.06 493.4,720.04 495,720.46 496.6,719.11 498.2,718.4 499.8,721.61 501.4,720.14 503,719.88 504.6,711.73 506.2,711.45 507.8,721.15 509.4,720.18 511,720.13 512.6,721.89 514.2,717.73 515.8,720.99 517.4,721.81 519,717.55 520.6,719.57 522.2,719.36 523.8,718.89 525.4,718.01 527,718.1 528.6,720.15 530.2,717.59 531.8,711.12 533.4,718.61 535,721.15 536.6,719.71 538.2,721.87 539.8,720.16 541.4,720.91 543,717.34 544.6,714.98 546.2,720.95 547.8,718.06 549.4,712.54 551,713.63 552.6,719.4 554.2,717.98 555.8,719.55 557.4,720.83 559,721.74 560.6,721.23 562.2,712.76 563.8,713.07 565.4,721.93 567,722.07 568.6,716.68 570.2,720.81 571.8,721.33 573.4,717.35 575,722.05 576.6,718.58 578.2,717.69 579.8,719.07 581.4,717.44 583,721.06 584.6,721.22 586.2,719.3 587.8,717.61 589.4,721.05 591,717.3 592.6,719.97 594.2,721.02 595.8,721.82 597.4,720.8 599,716.77 600.6,713.25 602.2,718.81 603.8,709.07 605.4,718.33 607,714.68 608.6,721.12 610.2,716.94 611.8,719.83 613.4,718.03 615,716.77 616.6,718.1 618.2,717.7 619.8,720.33 621.4,712.13 623,715.9 624.6,721.53 626.2,720.27 627.8,719.48 629.4,720.15 631,720.41 632.6,717.28 634.2,711.22 635.8,719.27 637.4,721.39 639,720.39 640.6,721.83 642.2,717.59 643.8,719.46 645.4,714.61 647,720.01 648.6,718.89 650.2,711.59 651.8,717.66 653.4,720.11 655,718.56 656.6,719.61 658.2,720.9 659.8,718.6 661.4,721.98 663,718.88 664.6,720.78 666.2,716.97 667.8,719.91 669.4,721.13 671,717.06 672.6,717.58 674.2,717.33 675.8,720.86 677.4,718.35 679,718.79 680.6,719.05 682.2,717.71 683.8,716.72 685.4,720.84 687,721.39 688.6,721.84 690.2,720.4 691.8,721.4 693.4,718.18 695,721.38 696.6,718.53 698.2,722.05 699.8,710.2 701.4,716.93 703,721.21 704.6,720.06 706.2,715.33 707.8,720.7 709.4,719.62 711,718.92 712.6,721.11 714.2,721.82 715.8,721.71 717.4,719.13 719,718.66 720.6,719.73 722.2,720.83 723.8,715.11 725.4,719.02 727,717.12 728.6,719.29 730.2,718.31 731.8,721.23 733.4,717.05 735,713.39 736.6,717.4 738.2,720.51 739.8,717.74 741.4,720.54 743,721.87 744.6,720.36 746.2,719.6 747.8,721.99 749.4,720.67 751,717.74 752.6,720.41 754.2,718.07 755.8,721.65 757.4,720.88 759,711.49 760.6,720.55 762.2,709.57 763.8,717.65 765.4,717.24 767,721.96 768.6,720.39 770.2,717.54 771.8,720.17 773.4,720.84 775,719.82 776.6,718.48 778.2,717.21 779.8,719.74 781.4,720.2 783,721.42 784.6,720.81 786.2,720.15 787.8,716.1 789.4,719.94 791,721 792.6,721.24 794.2,716.82 795.8,715.14 797.4,718.89 799,719.8 800.6,722.09 802.2,718.33 803.8,719.42 805.4,719.25 807,719.27 808.6,716.83 810.2,721.79 811.8,720.8 813.4,719.33 815,721.4 816.6,718.38 818.2,719.31 819.8,721.96 821.4,717.7 823,721.52 824.6,714.33 826.2,719.36 827.8,719.95 829.4,713.46 831,718.81 832.6,717.37 834.2,720.63 835.8,721.43 837.4,717.89 839,713.21 840.6,716.79 842.2,719.83 843.8,717.92 845.4,719.39 847,717.81 848.6,714.78 850.2,717.61 851.8,719.22 853.4,721.62 855,719.44 856.6,718.34 858.2,717.69 859.8,718.34 861.4,716.68 863,718.83 864.6,719.79 866.2,720.05 867.8,718.1 869.4,718.22 871,713.2 872.6,717.97 874.2,710.9 875.8,720.56 877.4,717.33 879,715.87 880.6,710.2 882.2,716.19 883.8,721.62 885.4,716.77 887,719.27 888.6,717.79 890.2,721.67 891.8,717.36 893.4,717.36 895,716.79 896.6,717.35 898.2,717.61 899.8,719.26 901.4,718.13 903,718.93 904.6,721.08 906.2,717.68 907.8,720.15 909.4,720.12 911,720.6 912.6,720.85 914.2,718.4 915.8,718.66 917.4,718.44 919,719.88 920.6,718 922.2,721.59 923.8,718.5 925.4,719.65 927,721.91 928.6,714.62 930.2,688.85 931.8,719.02 933.4,717.1 935,717.17 936.6,716.68 938.2,718.89 939.8,719.01 941.4,720.26 943,717.16 944.6,720.02 946.2,721.54 947.8,717.78 949.4,718.27 951,720.28 952.6,716.76 954.2,721.09 955.8,718.56 957.4,718.24 959,716.74 960.6,710.41 962.2,721.51 963.8,718.71 965.4,721.15 967,720.87 968.6,718.17 970.2,719.64 971.8,719.18 973.4,717.2 975,721.19 976.6,721.45 978.2,719.92 979.8,719.44 981.4,721.93 983,719.83 984.6,714.47 986.2,720.3 987.8,719.88 989.4,718.67 991,717.49 992.6,719.64 994.2,719.27 995.8,717.25 997.4,717.12 999,721.87 1000.6,712.76 1002.2,718.55 1003.8,714.99 1005.4,717.33 1007,719.46 1008.6,720.54 1010.2,719.32 1011.8,717.47 1013.4,719.33 1015,717.17 1016.6,718.63 1018.2,718.43 1019.8,716.68 1021.4,721.41 1023,719.97 1024.6,721.55 1026.2,717.19 1027.8,719.36 1029.4,717 1031,721.18 1032.6,716.63 1034.2,720.05 1035.8,720.05 1037.4,718.65 1039,718.36 1040.6,710.2 1042.2,717.38 1043.8,717.73 1045.4,717.39 1047,717.86 1048.6,721.73 1050.2,713.14 1051.8,717.39 1053.4,721.11 1055,717.78 1056.6,717.41 1058.2,717.27 1059.8,717.61 1061.4,722.05 1063,719.35 1064.6,721.36 1066.2,714.57 1067.8,718.26 1069.4,717.32 1071,710.53 1072.6,721 1074.2,719.43 1075.8,720.76 1077.4,721.81 1079,721.38 1080.6,720.38 1082.2,717.15 1083.8,717.4 1085.4,719.66 1087,718.39 1088.6,720.65 1090.2,720.89 1091.8,721.97 1093.4,717.67 1095,721.05 1096.6,717.66 1098.2,720.99 1099.8,717.83 1101.4,716.22 1103,693.42 1104.6,719.63 1106.2,719.66 1107.8,717.84 1109.4,717.9 1111,718.53 1112.6,716.94 1114.2,718.09 1115.8,721.23 1117.4,719.01 1119,720.29 1120.6,721.28 1122.2,719.16 1123.8,711.97 1125.4,721.4 1127,718.37 1128.6,722.04 1130.2,721.14 1131.8,719.39 1133.4,717.9 1135,719.48 1136.6,721.01 1138.2,721.23 1139.8,720.04 1141.4,713.35 1143,711.35 1144.6,719.01 1146.2,720.38 1147.8,716.71 1149.4,721.68 1151,710.94 1152.6,719.24 1154.2,720.06 1155.8,721.47 1157.4,720.41 1159,720.9 1160.6,719.63 1162.2,721.94 1163.8,721.28 1165.4,710.17 1167,717.26 1168.6,718.83 1170.2,717 1171.8,713.32 1173.4,717.09 1175,719.17 1176.6,713.39 1178.2,716.93 1179.8,721.9 1181.4,717.58 1183,721.63 1184.6,718.49 1186.2,717.63 1187.8,717.78 1189.4,720.11 1191,718.43 1192.6,716.92 1194.2,722.04 1195.8,718.44 1197.4,714.03 1199,721.04 1200.6,720.83 1202.2,721.93 1203.8,717.27 1205.4,721.3 1207,717.56 1208.6,717.12 1210.2,719.99 1211.8,718.3 1213.4,717.6 1215,718.15 1216.6,717.94 1218.2,717.65 1219.8,718.41 1221.4,720.29 1223,720.49 1224.6,720.1 1226.2,717.2 1227.8,722.07 1229.4,718.91 1231,718.06 1232.6,720.75 1234.2,721.23 1235.8,720.15 1237.4,717.1 1239,719.23 1240.6,714.62 1242.2,688.85 1243.8,716.84 1245.4,721.46 1247,721.36 1248.6,720.01 1250.2,710.2 1251.8,717 1253.4,719.9 1255,720.63 1256.6,721.03 1258.2,717.07 1259.8,717.26 1261.4,718.6 1263,719.94 1264.6,718.85 1266.2,720.41 1267.8,718.99 1269.4,720.64 1271,716.64 1272.6,717.35 1274.2,721.32 1275.8,718.12 1277.4,719.19 1279,718.62 1280.6,721.8 1282.2,721.9 1283.8,721.88 1285.4,718.49 1287,718.18 1288.6,717.51 1290.2,717.31 1291.8,719.8 1293.4,718.33 1295,717.31 1296.6,710.15 1298.2,716.79 1299.8,721.03 1301.4,719.43 1303,718.36 1304.6,718.28 1306.2,719.73 1307.8,718.2 1309.4,721.17 1311,719.97 1312.6,721.92 1314.2,720.13 1315.8,713.73 1317.4,716.79 1319,722.02 1320.6,718.49 1322.2,717.24 1323.8,720.64 1325.4,718.27 1327,716.26 1328.6,721.36 1330.2,708.67 1331.8,715.34 1333.4,718.87 1335,718.55 1336.6,718.27 1338.2,708.8 1339.8,719.46 1341.4,717.91 1343,714.2 1344.6,714.93 1346.2,718.76 1347.8,721.72 1349.4,711.72 1351,720.3 1352.6,718.72 1354.2,721.92 1355.8,708.52 1357.4,722.02 1359,721.97 1360.6,721.15 1362.2,719.7 1363.8,715.04 1365.4,720.56 1367,717.69 1368.6,717.34 1370.2,719.02 1371.8,717.58 1373.4,717.27 1375,721.62 1376.6,718.25 1378.2,717.99 1379.8,707.15 1381.4,717.01 1383,719.72 1384.6,719.37 1386.2,718.13 1387.8,719.7 1389.4,716.77 1391,719.05 1392.6,718.47 1394.2,722 1395.8,720.54 1397.4,709.97 1399,719.85 1400.6,717.45 1402.2,721.64 1403.8,721.34 1405.4,718.49 1407,720.5 1408.6,719.57 1410.2,718.86 1411.8,718.36 1413.4,716.79 1415,715.16" fill="none" stroke="#14A914" stroke-width="2.3" stroke-linejoin="round"/>
<polyline points="129.5,722.33 131.1,720 132.7,721.55 134.3,720.99 135.9,721.5 137.5,718.36 139.1,719.13 140.7,719.88 142.3,713.09 143.9,719.94 145.5,720.39 147.1,716.57 148.7,721.08 150.3,713.25 151.9,717.28 153.5,721.16 155.1,709 156.7,717.1 158.3,721.07 159.9,717.95 161.5,718.49 163.1,722.15 164.7,720.36 166.3,718.45 167.9,716.54 169.5,716.34 171.1,720.53 172.7,718.6 174.3,714.55 175.9,722.18 177.5,718.16 179.1,722.23 180.7,721.83 182.3,724.45 183.9,724.5 185.5,723.93 187.1,726.19 188.7,726.09 190.3,725.03 191.9,722.5 193.5,724.24 195.1,725.31 196.7,723.68 198.3,726.48 199.9,726 201.5,723.29 203.1,722.92 204.7,722.1 206.3,710.2 207.9,725.29 209.5,726.45 211.1,715.89 212.7,725.66 214.3,722.66 215.9,725.77 217.5,723.28 219.1,722.47 220.7,724.11 222.3,724.42 223.9,724.39 225.5,726.07 227.1,723.04 228.7,723.3 230.3,725.86 231.9,726.09 233.5,725.98 235.1,725.17 236.7,723.2 238.3,723.16 239.9,713.25 241.5,726.51 243.1,722.3 244.7,725.68 246.3,724.89 247.9,722.68 249.5,725.7 251.1,724.98 252.7,724.87 254.3,726.35 255.9,723.62 257.5,724.23 259.1,725.32 260.7,726.51 262.3,725.22 263.9,721.66 265.5,722.97 267.1,722.22 268.7,724.7 270.3,721.03 271.9,707.15 273.5,718.82 275.1,725.75 276.7,724.02 278.3,723.38 279.9,722.48 281.5,724.78 283.1,723.97 284.7,724.67 286.3,725.49 287.9,722.1 289.5,710.2 291.1,721.87 292.7,726.37 294.3,724.27 295.9,721.45 297.5,726.45 299.1,724.04 300.7,712.62 302.3,718.26 303.9,717.99 305.5,714.89 307.1,716.16 308.7,712.05 310.3,721.07 311.9,714.83 313.5,710.2 315.1,714.57 316.7,708 318.3,718.18 319.9,715.51 321.5,714.82 323.1,714.82 324.7,717.41 326.3,718.16 327.9,717.2 329.5,715.11 331.1,718.7 332.7,717.83 334.3,698 335.9,719.49 337.5,716.58 339.1,720.12 340.7,719.58 342.3,720.24 343.9,720.69 345.5,719.54 347.1,715.25 348.7,715.63 350.3,717.93 351.9,716.42 353.5,717.83 355.1,698 356.7,717.47 358.3,720.61 359.9,717.02 361.5,715.01 363.1,717.15" fill="none" stroke="#FF00FF" stroke-width="2.3" stroke-linejoin="round"/>
<polyline points="455,721.93 456.6,720.55 458.2,719.37 459.8,721.79 461.4,717.26 463,716.64 464.6,712.63 466.2,714.29 467.8,717.26 469.4,716.58 471,721.9 472.6,716.44 474.2,718.66 475.8,722.17 476.8,721 478.2,650.7 479,652.7 480.4,722 480.6,717.05 482.2,718.85 482.4,721 483.8,673.3 484.6,675.3 486,722 487,721.22 488.6,715.78 489,721 490.4,610.8 491.2,612.8 492.6,722 493,721 494.4,640.3 495.2,642.3 495.9,721 497.3,606.5 498.1,608.5 499.5,722 499.8,717.97 501.4,719.41 503,716.7 504.6,719.17 506.2,721.36 506.3,721 507.7,621.2 508.5,623.2 509.9,722 511,718.59 512,721 513.4,657.7 514.2,659.7 515.6,722 515.8,716.05 517.4,715.92 519,720.7 519.7,721 521.1,625.6 521.9,627.6 523.3,722 523.8,721.79 524.2,721 525.6,675 526.4,677 527.7,721 529.1,623.8 529.9,625.8 530.6,721 532,616.9 532.8,618.9 534.2,722 534.6,721 536,635.1 536.8,637.1 537,721 538.4,676.7 539.2,678.7 540.6,722 541.4,716.03 542.8,721 544.2,628.2 545,630.2 545.4,721 546.8,666.3 547.6,668.3 549,722 549.4,713.7 551,719.33 551.9,721 553.3,708 554.1,710 555.5,722 555.8,715.75 557.4,722.53 559,715.78 560.6,721.2 562.2,717.78 563.8,721.65 564.1,721 565.5,670.7 566.3,672.7 567.7,722 567.9,721 569.3,683.7 570.1,685.7 571.5,722 571.8,716.27 573.4,719.55 573.5,721 574.9,678.5 575.7,680.5 577.1,722 578.2,716.5 579.8,721.41 580.1,721 581.5,679.3 582.3,681.3 583.7,722 584.6,721.88 586.2,719.54 587.8,722.11 589.4,717.45 589.6,721 591,707.1 591.8,709.1 593.2,722 594.2,712.53 595.8,721.92 597.4,711.1 599,717.16 600.6,709.82 602.2,720.8 603.8,719.42 604.3,721 605.7,676.7 606.5,678.7 607.9,722 608.6,716.71 609.5,721 610.9,706.2 611.7,708.2 613.1,722 613.4,720.46 615,717.25 616.1,721 617.5,639.4 618.3,641.4 619.7,722 619.8,722.9 621.4,714.44 623,716.85 624.6,718.11 626.2,718.02 627.8,711.34 629.4,720.46 629.5,721 630.9,707.1 631.7,709.1 633.1,722 634.2,722.45 635.8,717.83 637.4,713.89 639,715.71 640.6,722.9 642.2,721.2 643.8,717.89 645.4,720.05 647,720.53 648.6,723.2 650.2,719.46 651.8,723.19 653.4,718.72 655,723.08 656.6,719.83 658.2,721.42 659.8,723.06 661.4,719.3 663,722.72 664.6,722.64 666.2,719.43 667.8,714.59 669.4,719.67 671,718.48 672.6,721.43 674.2,721.32 675.8,723.53 677.4,718.09 679,721.18 680.6,718.16 682.2,718.12 683.8,718.17 685.4,721.94 687,720.95 688.6,722.28 690.2,719.25 691.8,715.3 693.4,721.49 695,719.83 696.6,714.89 698.2,723.55 699.8,723.46 701.4,718.29 703,717.39 704.6,713.63 706.2,709.03 707.8,711.75 709.4,712.99 711,716.24 712.6,715.29 714.2,711.04 715.8,713.08 717.4,713.42 719,718.68 720.6,714.62 722.2,710.83 723.8,717.19 725.4,703.88 727,718.3 728.6,708.7 730.2,713.65 731.8,718.96 733.4,712.27 735,709.1 736.6,714.46 738.2,713.95 739.8,714.93 741.4,714.25 743,704.59 744.6,716.97 746.2,717.19 747.8,715.64 749.4,718.14 751,715.14 752.6,708.33 754.2,711.31 755.8,714.29 757.4,715.8 759,713.82 760.6,707.15 762.2,714.7 763.8,717.19 765.4,713.49 767,712.73 768.6,713.05 770.2,711.51 771.8,717.81 773.4,717.57 775,713.13 776.6,717.37 778.2,704.73 779.8,713.03 781.4,710.94 783,716.47 784.6,714.88 786.2,716.71 787.8,714.67 789.4,705.62 791,713.5 792.6,714.31 794.2,715.38 795.8,718.27 797.4,718.53 799,713.57 800.6,711.27 802.2,711.91 803.8,710.69 805.4,711.32 807,714.62 808.6,711.84 810.2,715.14 811.8,713.71 813.4,711.29 815,717.81 816.6,714.41 818.2,713.02 819.8,707.15 821.4,712.77 823,716.28 824.6,713.16 826.2,718.13 827.8,715.51 829.4,717.5 831,712.53 832.6,715.31 834.2,711.09 835.8,714.97 837.4,713.77 839,713.99 840.6,712.56 842.2,712.11 843.8,710.55 844.8,721 846.2,693 847,695 848.4,722 848.6,715.71 850.2,717.41 851.8,714.58 853.4,713.27 855,713.82 856.6,709.43 858.2,718.85 859.8,718.38 861.4,712.38 863,708.29 864.6,709.41 866.2,712.06 867.8,716.57 869.4,715.91 871,712.25 872.6,713.82 874.2,717.31 875.8,714.18 877.4,715.43 879,713.94 880.6,718.2 882.2,717.78 883.8,711.24 885.4,711.93 887,709.57 888.6,711.69 890.2,717.16 891.8,711.44 893.4,714.81 895,717.33 896.6,712.41 898.2,711.22 899.8,717.66 901.4,722.01 903,721.64 904.6,720.11 906.2,716.63 907.8,723.16 909.4,721.72 911,718.49 912.6,719.9 914.2,723.43 915.8,719.06 917.4,718.23 919,720.23 920.6,719.71 922.2,718.86 923.8,722.87 925.4,723.51 927,719.2 928.6,722.3 930.2,721.32 931.8,723.62 933.4,723.08 935,722.32 936.6,723.43 938.2,722.19 939.8,719.36 941.4,719.13 943,718.15 944.6,719.78 946.2,723.71 947.8,720.69 949.4,722.13 951,720.2 952.6,713.53 954.2,720.2 955.8,722.96 957.4,718.4 959,723.26 960.6,711.61 962.2,719.97 963.8,723.11 965.4,721.31 967,718.24 968.6,720.09 970.2,722.03 971.8,720.01 973.4,722.75 975,719.1 976.6,718.96 978.2,720.96 979.8,719.51 981.4,721.56 983,719.74 984.6,721.85 986.2,721.78 987.8,716.4 989.4,715.75 991,720 992.6,722.68 994.2,719 995.8,719.83 997.4,720.44 999,721.61 1000.6,713.99 1002.2,718.29 1003.8,718.96 1005.4,717.6 1007,720.53 1008.6,723.14 1010.2,718.83 1011.8,718.01 1013.4,722.45 1015,718.51 1016.6,722.63 1018.2,721.83 1019.8,722.11 1021.4,724.35 1023,723.31 1024.6,725.97 1026.2,725.81 1027.8,725.15 1029.4,725.61 1031,725.05 1032.6,725.07 1034.2,725.46 1035.8,726.89 1037.4,726.04 1039,721.62 1040.6,715.73 1042.2,726.12 1043.8,725.89 1045.4,723.3 1047,723.79 1048.6,726.54 1050.2,723.14 1051.8,726.3 1053.4,724.98 1055,724.08 1056.6,725.98 1058.2,724.12 1059.8,722.72 1061.4,726.6 1063,724.74 1064.6,723.65 1066.2,725.11 1067.8,723.59 1069.4,713.87 1071,723.74 1072.6,726.97 1074.2,726.03 1075.8,723.2 1077.4,722.85 1079,723.21 1080.6,722.87 1082.2,725.36 1083.8,724.62 1085.4,722.72 1087,723.11 1088.6,723.31 1090.2,722.74 1091.8,726.07 1093.4,719.56 1095,723.7 1096.6,723.89 1098.2,725.74 1099.8,721.95 1101.4,725.57 1103,723.17 1104.6,724.43 1106.2,723.02 1107.8,717.82 1109.4,725.34 1111,726.05 1112.6,724.39 1114.2,725.21 1115.8,725.48 1117.4,721.27 1119,723.53 1120.6,726.97 1122.2,725.93 1123.8,725.63 1125.4,726.45 1127,724.16 1128.6,725.47 1130.2,723.49 1131.8,724.95 1133.4,726.66 1135,725.47 1136.6,725.17 1138.2,725.28 1139.8,724.31 1141.4,722.86 1143,725.65 1144.6,726.4 1146.2,723.33 1147.8,723.84 1149.4,722.37 1151,716.26 1152.6,718.26 1154.2,718.29 1155.8,708.75 1157.4,712.52 1159,718.25 1160.6,718.1 1162.2,713.67 1163.8,719.81 1165.4,714.9 1167,718.57 1168.6,719.05 1170.2,714 1171.8,713.84 1173.4,717.76 1175,717.4 1176.6,718.05 1178.2,715.37 1179.8,719.77 1181.4,717.43 1183,714.97 1184.6,717.34 1186.2,718.36 1187.8,718.77 1189.4,717.23 1191,717.01 1192.6,712.75 1194.2,715.78 1195.8,713.95 1197.4,715.05 1199,717.9 1200.6,719.25 1202.2,716.51 1203.8,713.08 1205.4,704.1 1207,716.9 1208.6,718.57 1210.2,715.28 1211.8,719.95 1213.4,713.74 1215,712.8 1216.6,716.52 1218.2,714.52 1219.8,719.62 1221.4,718.58 1223,708.39 1224.6,715.96 1226.2,719.45 1227.8,719.29 1229.4,714.57 1231,716.01 1232.6,714.65 1234.2,717.4 1235.8,719.29 1237.4,711.08 1239,713.02 1240.6,718.26 1242.2,715.55 1243.8,719.78 1245.4,715.7 1247,718.71 1248.6,716.19 1250.2,724.29 1251.8,724.3 1253.4,725.68 1255,724.7 1256.6,723 1258.2,721.03 1259.8,707.15 1261.4,720 1263,726.77 1264.6,726.1 1266.2,715.55 1267.8,726.26 1269.4,724.11 1271,725.69 1272.6,723.92 1274.2,724.85 1275.8,722.76 1277.4,724.47 1279,724.19 1280.6,726.53 1282.2,726.21 1283.8,725.37 1285.4,722.88 1287,726.66 1288.6,715.43 1290.2,724.38 1291.8,724.04 1293.4,723.94 1295,725.52 1296.6,723.53 1298.2,722.85 1299.8,726.88 1301.4,724.96 1303,724.64 1304.6,725.67 1306.2,725.54 1307.8,724.87 1309.4,724.01 1311,723.37 1312.6,726.35 1314.2,723.56 1315.8,726.55 1317.4,726.57 1319,724.16 1320.6,715.07 1322.2,717.09 1323.8,715.96 1325.4,718.58 1327,711.64 1328.6,711.11 1330.2,714.84 1331.8,714.79 1333.4,717.65 1335,718.6 1336.6,716.45 1338.2,714.54 1339.8,710.96 1341.4,711.89 1343,711.9 1344.6,704.1 1346.2,713.22 1347.8,719.02 1349.4,715.57 1351,716.91 1352.6,716.84 1354.2,713.25 1355.8,718.97 1357.4,711.5 1359,711.36 1360.6,711.03 1362.2,702.58 1363.8,712.77 1365.4,712.99 1367,717.49 1368.6,713 1370.2,711.24 1371.8,713.13 1373.4,717.79 1375,716.42 1376.6,713.4 1378.2,711.5 1379.8,716.21 1381.4,717.68 1383,709.03 1384.6,698 1386.2,719.04 1387.8,715.19 1389.4,714.84 1391,711.52 1392.6,718.85 1394.2,711.59 1395.8,711.82 1397.4,715.54 1399,714.01 1400.6,716.56 1402.2,713.83 1403.8,716.44 1405.4,717.41 1407,715.9 1408.6,712.45 1410.2,712.2 1411.8,715.39 1413.4,712.66 1415,712.59" fill="none" stroke="#FF00FF" stroke-width="2.3" stroke-linejoin="round"/>
<rect x="369.4" y="318.6" width="80.5" height="404.6" fill="#fff" stroke="#FDDAC6" stroke-width="10.6"/>
<text x="0" y="0" font-size="41" text-anchor="middle" fill="#000" transform="translate(422,520.5) rotate(-90) scale(1,1.04)">SD</text>
<defs>
<clipPath id="clL"><path id="pL" d="M 490 612 C 500 480 540 330 640 220 C 720 140 840 120 940 175 C 990 200 1050 205 1100 160 C 1150 150 1230 160 1290 190 C 1350 220 1395 280 1400 330 C 1405 370 1390 400 1375 420 C 1395 440 1400 450 1380 455 C 1330 455 1280 460 1240 475 C 1180 500 1150 560 1140 620 C 1135 660 1130 690 1140 705 C 1180 710 1210 715 1210 730 C 1180 742 1140 742 1120 732 C 1090 700 1070 665 1050 648 C 990 652 900 692 820 725 C 790 745 790 770 810 780 L 920 790 C 900 802 830 805 790 797 C 720 782 650 777 600 747 C 560 722 530 697 500 692 C 400 686 260 680 175 692 C 125 705 112 748 150 770 C 200 792 300 790 390 790 C 330 814 200 820 118 800 C 55 778 48 700 108 660 C 200 615 380 615 490 610 Z"/></clipPath>
<clipPath id="clR"><path d="M 165 240 C 220 180 320 150 430 150 C 470 150 500 180 520 210 C 560 270 610 310 680 320 C 800 325 890 380 950 470 C 1010 570 1025 700 1025 820 C 1025 920 1030 990 1060 1030 L 1040 1080 C 990 1075 960 1072 900 1075 C 840 1080 780 1078 720 1075 L 715 1130 C 680 1140 620 1142 560 1140 C 600 1120 650 1105 680 1100 C 660 1050 610 1000 580 960 C 540 900 505 800 475 745 C 455 715 430 705 405 710 C 380 725 360 745 325 742 C 330 720 345 710 340 700 C 360 660 365 620 360 600 C 355 540 330 500 300 470 C 250 430 200 350 165 240 Z"/></clipPath>
</defs>
<g transform="translate(470,95) scale(0.11104)" stroke-linejoin="round" stroke-linecap="round">
<path d="M 990 1085 C 1060 1120 1190 1110 1265 1000 C 1320 910 1330 780 1310 660 C 1290 570 1235 500 1215 440 C 1212 395 1270 335 1375 255 C 1290 285 1190 335 1155 405 C 1135 475 1195 560 1240 660 C 1265 760 1258 870 1215 950 C 1170 1020 1100 1035 1030 1025 Z" fill="#D99A6C" stroke="#000" stroke-width="20"/>
<path d="M 1200 440 C 1195 390 1260 330 1370 255 C 1290 290 1200 340 1165 410 C 1150 480 1210 560 1250 660 C 1280 760 1270 880 1230 960 C 1200 1000 1170 1020 1140 1030 L 1230 1030 L 1400 1000 L 1400 200 Z" fill="#fff" stroke="none" opacity="0"/>
<g clip-path="url(#clR)">
<rect x="0" y="0" width="1500" height="1200" fill="#fff" stroke="none" stroke-width="0"/>
<path d="M 100 60 L 600 60 L 640 300 C 760 318 880 380 935 475 C 850 405 700 345 560 362 C 480 400 420 520 385 615 L 300 600 L 100 400 Z" fill="#A3A3A3" stroke="none" stroke-width="0"/>
</g>
<path d="M 165 240 C 220 180 320 150 430 150 C 470 150 500 180 520 210 C 560 270 610 310 680 320 C 800 325 890 380 950 470 C 1010 570 1025 700 1025 820 C 1025 920 1030 990 1060 1030 M 1040 1080 C 990 1075 960 1072 900 1075 C 840 1080 780 1078 720 1075 L 715 1130 C 680 1140 620 1142 560 1140 C 600 1120 650 1105 680 1100 C 660 1050 610 1000 580 960 C 540 900 505 800 475 745 C 455 715 430 705 405 710 C 380 725 360 745 325 742 M 340 700 C 360 660 365 620 360 600 C 355 540 330 500 300 470 C 250 430 200 350 165 240" fill="none" stroke="#000" stroke-width="26"/>
<path d="M 455 175 C 440 120 480 100 510 115 C 540 135 535 175 505 195 Z" fill="#D99A6C" stroke="#000" stroke-width="20"/>
<path d="M 445 160 C 405 195 385 260 370 322 C 395 330 412 305 420 280 C 432 245 450 210 455 172 Z" fill="#D99A6C" stroke="#000" stroke-width="18"/>
<ellipse cx="315" cy="232" rx="34" ry="44" fill="#D99A6C"/>
<ellipse cx="318" cy="232" rx="23" ry="31" fill="#000"/>
<circle cx="322" cy="225" r="9" fill="#fff"/>
<line x1="215" y1="330" x2="245" y2="470" stroke="#000" stroke-width="11"/>
<line x1="245" y1="330" x2="275" y2="470" stroke="#000" stroke-width="11"/>
<line x1="275" y1="330" x2="305" y2="470" stroke="#000" stroke-width="11"/>
</g>
<g transform="translate(355,130) scale(0.11104)" stroke-linejoin="round" stroke-linecap="round">
<g clip-path="url(#clL)">
<rect x="-100" y="-100" width="1700" height="1100" fill="#fff" stroke="none" stroke-width="0"/>
<path d="M 680 80 C 800 160 960 200 1040 280 C 1090 340 1100 450 1125 590 L 1170 560 L 1600 400 L 1600 0 L 680 0 Z" fill="#A3A3A3" stroke="none" stroke-width="0"/>
<path d="M -100 500 L 478 600 L 508 700 L -100 900 Z" fill="#D99A6C" stroke="none" stroke-width="0"/>
<path d="M 1100 700 L 1250 700 L 1250 760 L 1100 760 Z" fill="#D99A6C" stroke="none" stroke-width="0"/>
<path d="M 770 760 L 950 760 L 950 820 L 770 820 Z" fill="#D99A6C" stroke="none" stroke-width="0"/>
</g>
<use href="#pL" fill="none" stroke="#000" stroke-width="26"/>
<path d="M 1185 175 C 1160 230 1165 290 1190 320 C 1210 300 1212 240 1205 185 Z" fill="#D99A6C" stroke="#000" stroke-width="16"/>
<ellipse cx="1270" cy="285" rx="34" ry="44" fill="#D99A6C"/>
<ellipse cx="1273" cy="285" rx="23" ry="31" fill="#000"/>
<circle cx="1277" cy="278" r="9" fill="#fff"/>
<line x1="1262" y1="420" x2="1282" y2="520" stroke="#000" stroke-width="11"/>
<line x1="1290" y1="420" x2="1310" y2="520" stroke="#000" stroke-width="11"/>
<line x1="1318" y1="420" x2="1338" y2="520" stroke="#000" stroke-width="11"/>
</g>
<g transform="translate(470,95) scale(0.11104)" stroke-linejoin="round">
<path d="M 45 292 L 118 470 L 188 462 L 172 282 Z" fill="#fff" stroke="#000" stroke-width="18"/>
<path d="M 30 162 L 178 120 L 210 188 L 172 282 L 45 292 L 28 270 Z" fill="#fff" stroke="#000" stroke-width="18"/>
<line x1="30" y1="270" x2="172" y2="262" stroke="#000" stroke-width="14"/>
</g>
<g transform="translate(100,60) scale(0.13879)" stroke-linejoin="round" stroke-linecap="round">
<path d="M 580 1372 C 590 1280 650 1200 740 1185 C 800 1178 860 1195 905 1205 C 940 1195 980 1195 1020 1205 C 1060 1220 1090 1240 1105 1265 C 1080 1285 1050 1300 1010 1320 C 985 1340 970 1360 965 1385 C 975 1395 985 1405 975 1410 C 950 1412 930 1405 915 1395 C 880 1392 840 1398 800 1402 C 780 1410 770 1420 790 1425 L 835 1428 C 800 1435 760 1435 730 1428 C 690 1420 650 1405 620 1395 C 610 1392 598 1390 588 1390 C 520 1390 430 1384 385 1390 C 360 1398 368 1412 395 1417 C 440 1424 490 1424 528 1426 C 480 1442 410 1442 365 1430 C 325 1418 325 1382 350 1370 C 420 1352 500 1356 580 1362 Z" fill="#fff" stroke="none" stroke-width="0"/>
<clipPath id="cs100"><path d="M 580 1372 C 590 1280 650 1200 740 1185 C 800 1178 860 1195 905 1205 C 940 1195 980 1195 1020 1205 C 1060 1220 1090 1240 1105 1265 C 1080 1285 1050 1300 1010 1320 C 985 1340 970 1360 965 1385 C 975 1395 985 1405 975 1410 C 950 1412 930 1405 915 1395 C 880 1392 840 1398 800 1402 C 780 1410 770 1420 790 1425 L 835 1428 C 800 1435 760 1435 730 1428 C 690 1420 650 1405 620 1395 C 610 1392 598 1390 588 1390 C 520 1390 430 1384 385 1390 C 360 1398 368 1412 395 1417 C 440 1424 490 1424 528 1426 C 480 1442 410 1442 365 1430 C 325 1418 325 1382 350 1370 C 420 1352 500 1356 580 1362 Z"/></clipPath>
<g clip-path="url(#cs100)">
<path d="M 900 1150 L 1150 1150 L 1150 1350 L 950 1360 C 930 1300 920 1250 880 1205 Z" fill="#A3A3A3" stroke="none" stroke-width="0"/>
<path d="M 300 1300 L 583 1355 L 592 1398 L 300 1450 Z" fill="#D99A6C" stroke="none" stroke-width="0"/>
</g>
<path d="M 580 1372 C 590 1280 650 1200 740 1185 C 800 1178 860 1195 905 1205 C 940 1195 980 1195 1020 1205 C 1060 1220 1090 1240 1105 1265 C 1080 1285 1050 1300 1010 1320 C 985 1340 970 1360 965 1385 C 975 1395 985 1405 975 1410 C 950 1412 930 1405 915 1395 C 880 1392 840 1398 800 1402 C 780 1410 770 1420 790 1425 L 835 1428 C 800 1435 760 1435 730 1428 C 690 1420 650 1405 620 1395 C 610 1392 598 1390 588 1390 C 520 1390 430 1384 385 1390 C 360 1398 368 1412 395 1417 C 440 1424 490 1424 528 1426 C 480 1442 410 1442 365 1430 C 325 1418 325 1382 350 1370 C 420 1352 500 1356 580 1362 Z" fill="none" stroke="#000" stroke-width="16"/>
<path d="M 905 1065 L 995 1048 L 1030 1100 L 1010 1180 L 975 1235 L 945 1160 L 915 1110 Z" fill="#fff" stroke="#000" stroke-width="13"/>
<line x1="915" y1="1110" x2="1020" y2="1100" stroke="#000" stroke-width="11"/>
<circle cx="1030" cy="1232" r="14" fill="#D99A6C"/>
<circle cx="1031" cy="1232" r="8" fill="#000"/>
<line x1="1022" y1="1285" x2="1032" y2="1335" stroke="#000" stroke-width="14"/>
<line x1="1044" y1="1285" x2="1054" y2="1335" stroke="#000" stroke-width="14"/>
<line x1="1066" y1="1285" x2="1076" y2="1335" stroke="#000" stroke-width="14"/>
<line x1="1010" y1="1315" x2="1090" y2="1300" stroke="#000" stroke-width="12"/>
</g>
<g transform="translate(1093.2,56.4) scale(0.13879)" stroke-linejoin="round" stroke-linecap="round">
<path d="M 580 1372 C 590 1280 650 1200 740 1185 C 800 1178 860 1195 905 1205 C 940 1195 980 1195 1020 1205 C 1060 1220 1090 1240 1105 1265 C 1080 1285 1050 1300 1010 1320 C 985 1340 970 1360 965 1385 C 975 1395 985 1405 975 1410 C 950 1412 930 1405 915 1395 C 880 1392 840 1398 800 1402 C 780 1410 770 1420 790 1425 L 835 1428 C 800 1435 760 1435 730 1428 C 690 1420 650 1405 620 1395 C 610 1392 598 1390 588 1390 C 520 1390 430 1384 385 1390 C 360 1398 368 1412 395 1417 C 440 1424 490 1424 528 1426 C 480 1442 410 1442 365 1430 C 325 1418 325 1382 350 1370 C 420 1352 500 1356 580 1362 Z" fill="#fff" stroke="none" stroke-width="0"/>
<clipPath id="cs1093"><path d="M 580 1372 C 590 1280 650 1200 740 1185 C 800 1178 860 1195 905 1205 C 940 1195 980 1195 1020 1205 C 1060 1220 1090 1240 1105 1265 C 1080 1285 1050 1300 1010 1320 C 985 1340 970 1360 965 1385 C 975 1395 985 1405 975 1410 C 950 1412 930 1405 915 1395 C 880 1392 840 1398 800 1402 C 780 1410 770 1420 790 1425 L 835 1428 C 800 1435 760 1435 730 1428 C 690 1420 650 1405 620 1395 C 610 1392 598 1390 588 1390 C 520 1390 430 1384 385 1390 C 360 1398 368 1412 395 1417 C 440 1424 490 1424 528 1426 C 480 1442 410 1442 365 1430 C 325 1418 325 1382 350 1370 C 420 1352 500 1356 580 1362 Z"/></clipPath>
<g clip-path="url(#cs1093)">
<path d="M 900 1150 L 1150 1150 L 1150 1350 L 950 1360 C 930 1300 920 1250 880 1205 Z" fill="#A3A3A3" stroke="none" stroke-width="0"/>
<path d="M 300 1300 L 583 1355 L 592 1398 L 300 1450 Z" fill="#D99A6C" stroke="none" stroke-width="0"/>
</g>
<path d="M 580 1372 C 590 1280 650 1200 740 1185 C 800 1178 860 1195 905 1205 C 940 1195 980 1195 1020 1205 C 1060 1220 1090 1240 1105 1265 C 1080 1285 1050 1300 1010 1320 C 985 1340 970 1360 965 1385 C 975 1395 985 1405 975 1410 C 950 1412 930 1405 915 1395 C 880 1392 840 1398 800 1402 C 780 1410 770 1420 790 1425 L 835 1428 C 800 1435 760 1435 730 1428 C 690 1420 650 1405 620 1395 C 610 1392 598 1390 588 1390 C 520 1390 430 1384 385 1390 C 360 1398 368 1412 395 1417 C 440 1424 490 1424 528 1426 C 480 1442 410 1442 365 1430 C 325 1418 325 1382 350 1370 C 420 1352 500 1356 580 1362 Z" fill="none" stroke="#000" stroke-width="16"/>
<path d="M 905 1065 L 995 1048 L 1030 1100 L 1010 1180 L 975 1235 L 945 1160 L 915 1110 Z" fill="#fff" stroke="#000" stroke-width="13"/>
<line x1="915" y1="1110" x2="1020" y2="1100" stroke="#000" stroke-width="11"/>
<circle cx="1030" cy="1232" r="14" fill="#D99A6C"/>
<circle cx="1031" cy="1232" r="8" fill="#000"/>
<line x1="1022" y1="1285" x2="1032" y2="1335" stroke="#000" stroke-width="14"/>
<line x1="1044" y1="1285" x2="1054" y2="1335" stroke="#000" stroke-width="14"/>
<line x1="1066" y1="1285" x2="1076" y2="1335" stroke="#000" stroke-width="14"/>
<line x1="1010" y1="1315" x2="1090" y2="1300" stroke="#000" stroke-width="12"/>
</g>
<line x1="237.4" y1="195.7" x2="237.4" y2="274.2" stroke="#8a8a8a" stroke-width="2.2"/>
<line x1="1230.6" y1="191.6" x2="1230.6" y2="269.5" stroke="#8a8a8a" stroke-width="2.2"/>
<text x="0" y="0" font-size="56" text-anchor="start" fill="#000" transform="translate(-3,902.9) scale(1,1.04)">B</text>
<text x="98.9" y="903.4" font-size="42" text-anchor="start" fill="#000">Pre versus Post</text>
<rect x="85" y="920.2" width="331.2" height="330.4" fill="#FCCAFC" stroke="none" stroke-width="0"/>
<rect x="85" y="1194.2" width="164.8" height="56.4" fill="#D2F0D2" stroke="none" stroke-width="0"/>
<line x1="249.9" y1="920.5" x2="249.9" y2="1251" stroke="#000" stroke-width="3" stroke-dasharray="13.3 13.3"/>
<line x1="85" y1="1194.3" x2="416.2" y2="1194.3" stroke="#000" stroke-width="3" stroke-dasharray="13.3 13.3" stroke-dashoffset="1.4"/>
<text x="92.7" y="948.3" font-size="28" text-anchor="start" fill="#FF00FF">Susceptible</text>
<text x="85.3" y="1247" font-size="28" text-anchor="start" fill="#14A914">Resilient</text>
<line x1="85" y1="919.5" x2="85" y2="1253.5" stroke="#111" stroke-width="2.2"/>
<line x1="73.3" y1="1252.4" x2="416.5" y2="1252.4" stroke="#111" stroke-width="2.2"/>
<line x1="73.3" y1="919.99" x2="85" y2="919.99" stroke="#111" stroke-width="2"/>
<line x1="73.3" y1="961.51" x2="85" y2="961.51" stroke="#111" stroke-width="2"/>
<line x1="73.3" y1="1003.02" x2="85" y2="1003.02" stroke="#111" stroke-width="2"/>
<line x1="73.3" y1="1044.54" x2="85" y2="1044.54" stroke="#111" stroke-width="2"/>
<line x1="73.3" y1="1086.05" x2="85" y2="1086.05" stroke="#111" stroke-width="2"/>
<line x1="73.3" y1="1127.57" x2="85" y2="1127.57" stroke="#111" stroke-width="2"/>
<line x1="73.3" y1="1169.08" x2="85" y2="1169.08" stroke="#111" stroke-width="2"/>
<line x1="73.3" y1="1210.6" x2="85" y2="1210.6" stroke="#111" stroke-width="2"/>
<text x="0" y="0" font-size="28" text-anchor="end" fill="#000" transform="translate(67.5,971.51) scale(1,1.04)">3</text>
<text x="0" y="0" font-size="28" text-anchor="end" fill="#000" transform="translate(67.5,1054.54) scale(1,1.04)">2</text>
<text x="0" y="0" font-size="28" text-anchor="end" fill="#000" transform="translate(67.5,1137.57) scale(1,1.04)">1</text>
<text x="0" y="0" font-size="28" text-anchor="end" fill="#000" transform="translate(67.5,1220.6) scale(1,1.04)">0</text>
<line x1="85" y1="1252.4" x2="85" y2="1264.4" stroke="#111" stroke-width="2"/>
<line x1="118.09" y1="1252.4" x2="118.09" y2="1264.4" stroke="#111" stroke-width="2"/>
<line x1="151.18" y1="1252.4" x2="151.18" y2="1264.4" stroke="#111" stroke-width="2"/>
<line x1="184.27" y1="1252.4" x2="184.27" y2="1264.4" stroke="#111" stroke-width="2"/>
<line x1="217.36" y1="1252.4" x2="217.36" y2="1264.4" stroke="#111" stroke-width="2"/>
<line x1="250.45" y1="1252.4" x2="250.45" y2="1264.4" stroke="#111" stroke-width="2"/>
<line x1="283.54" y1="1252.4" x2="283.54" y2="1264.4" stroke="#111" stroke-width="2"/>
<line x1="316.63" y1="1252.4" x2="316.63" y2="1264.4" stroke="#111" stroke-width="2"/>
<line x1="349.72" y1="1252.4" x2="349.72" y2="1264.4" stroke="#111" stroke-width="2"/>
<line x1="382.81" y1="1252.4" x2="382.81" y2="1264.4" stroke="#111" stroke-width="2"/>
<line x1="415.9" y1="1252.4" x2="415.9" y2="1264.4" stroke="#111" stroke-width="2"/>
<text x="0" y="0" font-size="28" text-anchor="middle" fill="#000" transform="translate(85,1289) scale(1,1.04)">-0.03</text>
<text x="0" y="0" font-size="28" text-anchor="middle" fill="#000" transform="translate(184.27,1289) scale(1,1.04)">0</text>
<text x="0" y="0" font-size="28" text-anchor="middle" fill="#000" transform="translate(283.54,1289) scale(1,1.04)">0.03</text>
<text x="0" y="0" font-size="28" text-anchor="middle" fill="#000" transform="translate(382.81,1289) scale(1,1.04)">0.06</text>
<text x="240.5" y="1323.3" font-size="33" text-anchor="middle" fill="#000">Δ HRV</text>
<text x="0" y="0" font-size="33" text-anchor="middle" fill="#000" transform="translate(36,1092.7) rotate(-90)">Δ Arr rate (/min)</text>
<circle cx="116.64" cy="1210.92" r="5.3" fill="#14A914"/>
<circle cx="120.46" cy="1208.17" r="5.3" fill="#14A914"/>
<circle cx="124.27" cy="1206.34" r="5.3" fill="#14A914"/>
<circle cx="127.02" cy="1205.42" r="5.3" fill="#14A914"/>
<circle cx="140.76" cy="1208.17" r="5.3" fill="#14A914"/>
<circle cx="148.24" cy="1199.31" r="5.3" fill="#14A914"/>
<circle cx="156.34" cy="1204.35" r="5.3" fill="#14A914"/>
<circle cx="158.63" cy="1207.4" r="5.3" fill="#14A914"/>
<circle cx="159.69" cy="1210.92" r="5.3" fill="#14A914"/>
<circle cx="173.89" cy="1227.25" r="5.3" fill="#14A914"/>
<circle cx="189.62" cy="1210.92" r="5.3" fill="#14A914"/>
<circle cx="195.27" cy="1210.92" r="5.3" fill="#14A914"/>
<circle cx="224.73" cy="1208.17" r="5.3" fill="#14A914"/>
<circle cx="246.87" cy="1210.92" r="5.3" fill="#14A914"/>
<circle cx="384.12" cy="945.27" r="5.3" fill="#FF00FF"/>
<circle cx="290.38" cy="1058.85" r="5.3" fill="#FF00FF"/>
<circle cx="237.56" cy="1069.54" r="5.3" fill="#FF00FF"/>
<circle cx="271.15" cy="1158.4" r="5.3" fill="#FF00FF"/>
<circle cx="213.89" cy="1188.63" r="5.3" fill="#FF00FF"/>
<circle cx="256.34" cy="1210.92" r="5.3" fill="#FF00FF"/>
<circle cx="267.48" cy="1210.92" r="5.3" fill="#FF00FF"/>
<text x="0" y="0" font-size="56" text-anchor="start" fill="#000" transform="translate(458,903) scale(1,1.04)">C</text>
<rect x="673.2" y="969.7" width="19.4" height="252.3" fill="#FDDAC6" stroke="none" stroke-width="0"/>
<line x1="598.9" y1="955" x2="598.9" y2="1223" stroke="#111" stroke-width="2.2"/>
<line x1="587.5" y1="1222" x2="931" y2="1222" stroke="#111" stroke-width="2.2"/>
<line x1="587.5" y1="956.1" x2="598.9" y2="956.1" stroke="#111" stroke-width="2"/>
<line x1="587.5" y1="994.1" x2="598.9" y2="994.1" stroke="#111" stroke-width="2"/>
<line x1="587.5" y1="1032.1" x2="598.9" y2="1032.1" stroke="#111" stroke-width="2"/>
<line x1="587.5" y1="1070.1" x2="598.9" y2="1070.1" stroke="#111" stroke-width="2"/>
<line x1="587.5" y1="1108.1" x2="598.9" y2="1108.1" stroke="#111" stroke-width="2"/>
<line x1="587.5" y1="1146.1" x2="598.9" y2="1146.1" stroke="#111" stroke-width="2"/>
<line x1="587.5" y1="1184.1" x2="598.9" y2="1184.1" stroke="#111" stroke-width="2"/>
<line x1="587.5" y1="1222.1" x2="598.9" y2="1222.1" stroke="#111" stroke-width="2"/>
<text x="0" y="0" font-size="28" text-anchor="end" fill="#000" transform="translate(574.5,966.1) scale(1,1.04)">0.10</text>
<text x="0" y="0" font-size="28" text-anchor="end" fill="#000" transform="translate(574.5,1042.1) scale(1,1.04)">0.08</text>
<text x="0" y="0" font-size="28" text-anchor="end" fill="#000" transform="translate(574.5,1118.1) scale(1,1.04)">0.06</text>
<text x="0" y="0" font-size="28" text-anchor="end" fill="#000" transform="translate(574.5,1194.1) scale(1,1.04)">0.04</text>
<line x1="617.7" y1="1222" x2="617.7" y2="1232" stroke="#111" stroke-width="2"/>
<text x="0" y="0" font-size="28" text-anchor="middle" fill="#000" transform="translate(613.7,1261.2) scale(1,1.04)">-30</text>
<line x1="672.8" y1="1222" x2="672.8" y2="1232" stroke="#111" stroke-width="2"/>
<text x="0" y="0" font-size="28" text-anchor="middle" fill="#000" transform="translate(672.8,1261.2) scale(1,1.04)">0</text>
<line x1="728" y1="1222" x2="728" y2="1232" stroke="#111" stroke-width="2"/>
<text x="0" y="0" font-size="28" text-anchor="middle" fill="#000" transform="translate(728,1261.2) scale(1,1.04)">30</text>
<line x1="783.2" y1="1222" x2="783.2" y2="1232" stroke="#111" stroke-width="2"/>
<text x="0" y="0" font-size="28" text-anchor="middle" fill="#000" transform="translate(783.2,1261.2) scale(1,1.04)">60</text>
<line x1="838.7" y1="1222" x2="838.7" y2="1232" stroke="#111" stroke-width="2"/>
<text x="0" y="0" font-size="28" text-anchor="middle" fill="#000" transform="translate(838.7,1261.2) scale(1,1.04)">90</text>
<line x1="894.2" y1="1222" x2="894.2" y2="1232" stroke="#111" stroke-width="2"/>
<text x="0" y="0" font-size="28" text-anchor="middle" fill="#000" transform="translate(894.2,1261.2) scale(1,1.04)">120</text>
<text x="758.4" y="1297.6" font-size="33" text-anchor="middle" fill="#000">Time (min)</text>
<text x="0" y="0" font-size="33" text-anchor="middle" fill="#000" transform="translate(507,1087.7) rotate(-90)">HRV</text>
<line x1="623.9" y1="1153.61" x2="623.9" y2="1167.49" stroke="#000" stroke-width="2.4"/>
<line x1="620.6" y1="1153.61" x2="627.2" y2="1153.61" stroke="#000" stroke-width="2.6"/>
<line x1="620.6" y1="1167.49" x2="627.2" y2="1167.49" stroke="#000" stroke-width="2.6"/>
<line x1="642.29" y1="1169.22" x2="642.29" y2="1183.8" stroke="#000" stroke-width="2.4"/>
<line x1="638.99" y1="1169.22" x2="645.59" y2="1169.22" stroke="#000" stroke-width="2.6"/>
<line x1="638.99" y1="1183.8" x2="645.59" y2="1183.8" stroke="#000" stroke-width="2.6"/>
<line x1="660.68" y1="1139.04" x2="660.68" y2="1164.02" stroke="#000" stroke-width="2.4"/>
<line x1="657.38" y1="1139.04" x2="663.98" y2="1139.04" stroke="#000" stroke-width="2.6"/>
<line x1="657.38" y1="1164.02" x2="663.98" y2="1164.02" stroke="#000" stroke-width="2.6"/>
<line x1="697.46" y1="1153.61" x2="697.46" y2="1172" stroke="#000" stroke-width="2.4"/>
<line x1="694.16" y1="1153.61" x2="700.76" y2="1153.61" stroke="#000" stroke-width="2.6"/>
<line x1="694.16" y1="1172" x2="700.76" y2="1172" stroke="#000" stroke-width="2.6"/>
<line x1="715.85" y1="1157.77" x2="715.85" y2="1178.59" stroke="#000" stroke-width="2.4"/>
<line x1="712.55" y1="1157.77" x2="719.15" y2="1157.77" stroke="#000" stroke-width="2.6"/>
<line x1="712.55" y1="1178.59" x2="719.15" y2="1178.59" stroke="#000" stroke-width="2.6"/>
<line x1="734.59" y1="1172.69" x2="734.59" y2="1190.04" stroke="#000" stroke-width="2.4"/>
<line x1="731.29" y1="1172.69" x2="737.89" y2="1172.69" stroke="#000" stroke-width="2.6"/>
<line x1="731.29" y1="1190.04" x2="737.89" y2="1190.04" stroke="#000" stroke-width="2.6"/>
<line x1="752.98" y1="1169.22" x2="752.98" y2="1194.21" stroke="#000" stroke-width="2.4"/>
<line x1="749.68" y1="1169.22" x2="756.28" y2="1169.22" stroke="#000" stroke-width="2.6"/>
<line x1="749.68" y1="1194.21" x2="756.28" y2="1194.21" stroke="#000" stroke-width="2.6"/>
<line x1="771.37" y1="1168.53" x2="771.37" y2="1185.53" stroke="#000" stroke-width="2.4"/>
<line x1="768.07" y1="1168.53" x2="774.67" y2="1168.53" stroke="#000" stroke-width="2.6"/>
<line x1="768.07" y1="1185.53" x2="774.67" y2="1185.53" stroke="#000" stroke-width="2.6"/>
<line x1="789.76" y1="1170.96" x2="789.76" y2="1192.47" stroke="#000" stroke-width="2.4"/>
<line x1="786.46" y1="1170.96" x2="793.06" y2="1170.96" stroke="#000" stroke-width="2.6"/>
<line x1="786.46" y1="1192.47" x2="793.06" y2="1192.47" stroke="#000" stroke-width="2.6"/>
<line x1="808.15" y1="1144.93" x2="808.15" y2="1169.22" stroke="#000" stroke-width="2.4"/>
<line x1="804.85" y1="1144.93" x2="811.45" y2="1144.93" stroke="#000" stroke-width="2.6"/>
<line x1="804.85" y1="1169.22" x2="811.45" y2="1169.22" stroke="#000" stroke-width="2.6"/>
<line x1="826.54" y1="1164.02" x2="826.54" y2="1183.1" stroke="#000" stroke-width="2.4"/>
<line x1="823.24" y1="1164.02" x2="829.84" y2="1164.02" stroke="#000" stroke-width="2.6"/>
<line x1="823.24" y1="1183.1" x2="829.84" y2="1183.1" stroke="#000" stroke-width="2.6"/>
<line x1="844.93" y1="1148.4" x2="844.93" y2="1169.92" stroke="#000" stroke-width="2.4"/>
<line x1="841.63" y1="1148.4" x2="848.23" y2="1148.4" stroke="#000" stroke-width="2.6"/>
<line x1="841.63" y1="1169.92" x2="848.23" y2="1169.92" stroke="#000" stroke-width="2.6"/>
<line x1="863.32" y1="1160.55" x2="863.32" y2="1184.84" stroke="#000" stroke-width="2.4"/>
<line x1="860.02" y1="1160.55" x2="866.62" y2="1160.55" stroke="#000" stroke-width="2.6"/>
<line x1="860.02" y1="1184.84" x2="866.62" y2="1184.84" stroke="#000" stroke-width="2.6"/>
<line x1="881.71" y1="1136.95" x2="881.71" y2="1161.59" stroke="#000" stroke-width="2.4"/>
<line x1="878.41" y1="1136.95" x2="885.01" y2="1136.95" stroke="#000" stroke-width="2.6"/>
<line x1="878.41" y1="1161.59" x2="885.01" y2="1161.59" stroke="#000" stroke-width="2.6"/>
<line x1="900.1" y1="1158.81" x2="900.1" y2="1180.33" stroke="#000" stroke-width="2.4"/>
<line x1="896.8" y1="1158.81" x2="903.4" y2="1158.81" stroke="#000" stroke-width="2.6"/>
<line x1="896.8" y1="1180.33" x2="903.4" y2="1180.33" stroke="#000" stroke-width="2.6"/>
<polyline points="623.9,1160.55 642.29,1176.86 660.68,1151.53" fill="none" stroke="#000" stroke-width="2.4" stroke-linejoin="round"/>
<polyline points="697.46,1162.98 715.85,1168.18 734.59,1181.37 752.98,1181.37 771.37,1176.86 789.76,1181.37 808.15,1157.43 826.54,1173.73 844.93,1159.51 863.32,1172.35 881.71,1149.1 900.1,1169.22" fill="none" stroke="#000" stroke-width="2.4" stroke-linejoin="round"/>
<line x1="629.1" y1="1152.57" x2="629.1" y2="1158.81" stroke="#000" stroke-width="2.4"/>
<line x1="625.8" y1="1152.57" x2="632.4" y2="1152.57" stroke="#000" stroke-width="2.6"/>
<line x1="625.8" y1="1158.81" x2="632.4" y2="1158.81" stroke="#000" stroke-width="2.6"/>
<line x1="647.49" y1="1182.41" x2="647.49" y2="1188.31" stroke="#000" stroke-width="2.4"/>
<line x1="644.19" y1="1182.41" x2="650.79" y2="1182.41" stroke="#000" stroke-width="2.6"/>
<line x1="644.19" y1="1188.31" x2="650.79" y2="1188.31" stroke="#000" stroke-width="2.6"/>
<line x1="665.88" y1="1157.08" x2="665.88" y2="1184.14" stroke="#000" stroke-width="2.4"/>
<line x1="662.58" y1="1157.08" x2="669.18" y2="1157.08" stroke="#000" stroke-width="2.6"/>
<line x1="662.58" y1="1184.14" x2="669.18" y2="1184.14" stroke="#000" stroke-width="2.6"/>
<line x1="703.01" y1="1062.7" x2="703.01" y2="1108.5" stroke="#000" stroke-width="2.4"/>
<line x1="699.71" y1="1062.7" x2="706.31" y2="1062.7" stroke="#000" stroke-width="2.6"/>
<line x1="699.71" y1="1108.5" x2="706.31" y2="1108.5" stroke="#000" stroke-width="2.6"/>
<line x1="721.4" y1="993.3" x2="721.4" y2="1068.6" stroke="#000" stroke-width="2.4"/>
<line x1="718.1" y1="993.3" x2="724.7" y2="993.3" stroke="#000" stroke-width="2.6"/>
<line x1="718.1" y1="1068.6" x2="724.7" y2="1068.6" stroke="#000" stroke-width="2.6"/>
<line x1="739.79" y1="1061.66" x2="739.79" y2="1108.5" stroke="#000" stroke-width="2.4"/>
<line x1="736.49" y1="1061.66" x2="743.09" y2="1061.66" stroke="#000" stroke-width="2.6"/>
<line x1="736.49" y1="1108.5" x2="743.09" y2="1108.5" stroke="#000" stroke-width="2.6"/>
<line x1="758.18" y1="1105.03" x2="758.18" y2="1139.73" stroke="#000" stroke-width="2.4"/>
<line x1="754.88" y1="1105.03" x2="761.48" y2="1105.03" stroke="#000" stroke-width="2.6"/>
<line x1="754.88" y1="1139.73" x2="761.48" y2="1139.73" stroke="#000" stroke-width="2.6"/>
<line x1="776.57" y1="1127.59" x2="776.57" y2="1157.08" stroke="#000" stroke-width="2.4"/>
<line x1="773.27" y1="1127.59" x2="779.87" y2="1127.59" stroke="#000" stroke-width="2.6"/>
<line x1="773.27" y1="1157.08" x2="779.87" y2="1157.08" stroke="#000" stroke-width="2.6"/>
<line x1="794.96" y1="1109.54" x2="794.96" y2="1130.36" stroke="#000" stroke-width="2.4"/>
<line x1="791.66" y1="1109.54" x2="798.26" y2="1109.54" stroke="#000" stroke-width="2.6"/>
<line x1="791.66" y1="1130.36" x2="798.26" y2="1130.36" stroke="#000" stroke-width="2.6"/>
<line x1="813.35" y1="1103.3" x2="813.35" y2="1144.24" stroke="#000" stroke-width="2.4"/>
<line x1="810.05" y1="1103.3" x2="816.65" y2="1103.3" stroke="#000" stroke-width="2.6"/>
<line x1="810.05" y1="1144.24" x2="816.65" y2="1144.24" stroke="#000" stroke-width="2.6"/>
<line x1="831.74" y1="1160.55" x2="831.74" y2="1181.37" stroke="#000" stroke-width="2.4"/>
<line x1="828.44" y1="1160.55" x2="835.04" y2="1160.55" stroke="#000" stroke-width="2.6"/>
<line x1="828.44" y1="1181.37" x2="835.04" y2="1181.37" stroke="#000" stroke-width="2.6"/>
<line x1="850.13" y1="1149.1" x2="850.13" y2="1176.16" stroke="#000" stroke-width="2.4"/>
<line x1="846.83" y1="1149.1" x2="853.43" y2="1149.1" stroke="#000" stroke-width="2.6"/>
<line x1="846.83" y1="1176.16" x2="853.43" y2="1176.16" stroke="#000" stroke-width="2.6"/>
<line x1="868.52" y1="1132.79" x2="868.52" y2="1145.63" stroke="#000" stroke-width="2.4"/>
<line x1="865.22" y1="1132.79" x2="871.82" y2="1132.79" stroke="#000" stroke-width="2.6"/>
<line x1="865.22" y1="1145.63" x2="871.82" y2="1145.63" stroke="#000" stroke-width="2.6"/>
<line x1="887.26" y1="1165.75" x2="887.26" y2="1187.27" stroke="#000" stroke-width="2.4"/>
<line x1="883.96" y1="1165.75" x2="890.56" y2="1165.75" stroke="#000" stroke-width="2.6"/>
<line x1="883.96" y1="1187.27" x2="890.56" y2="1187.27" stroke="#000" stroke-width="2.6"/>
<line x1="905.65" y1="1113.71" x2="905.65" y2="1141.46" stroke="#000" stroke-width="2.4"/>
<line x1="902.35" y1="1113.71" x2="908.95" y2="1113.71" stroke="#000" stroke-width="2.6"/>
<line x1="902.35" y1="1141.46" x2="908.95" y2="1141.46" stroke="#000" stroke-width="2.6"/>
<polyline points="629.1,1155.69 647.49,1184.84 665.88,1170.61" fill="none" stroke="#000" stroke-width="2.4" stroke-linejoin="round"/>
<polyline points="703.01,1085.95 721.4,1031.12 739.79,1085.95 758.18,1122.38 776.57,1142.51 794.96,1119.6 813.35,1123.77 831.74,1171.3 850.13,1162.63 868.52,1139.04 887.26,1176.51 905.65,1127.93" fill="none" stroke="#000" stroke-width="2.4" stroke-linejoin="round"/>
<circle cx="623.9" cy="1160.55" r="5.5" fill="#14A914"/>
<circle cx="642.29" cy="1176.86" r="5.5" fill="#14A914"/>
<circle cx="660.68" cy="1151.53" r="5.5" fill="#14A914"/>
<circle cx="697.46" cy="1162.98" r="5.5" fill="#14A914"/>
<circle cx="715.85" cy="1168.18" r="5.5" fill="#14A914"/>
<circle cx="734.59" cy="1181.37" r="5.5" fill="#14A914"/>
<circle cx="752.98" cy="1181.37" r="5.5" fill="#14A914"/>
<circle cx="771.37" cy="1176.86" r="5.5" fill="#14A914"/>
<circle cx="789.76" cy="1181.37" r="5.5" fill="#14A914"/>
<circle cx="808.15" cy="1157.43" r="5.5" fill="#14A914"/>
<circle cx="826.54" cy="1173.73" r="5.5" fill="#14A914"/>
<circle cx="844.93" cy="1159.51" r="5.5" fill="#14A914"/>
<circle cx="863.32" cy="1172.35" r="5.5" fill="#14A914"/>
<circle cx="881.71" cy="1149.1" r="5.5" fill="#14A914"/>
<circle cx="900.1" cy="1169.22" r="5.5" fill="#14A914"/>
<circle cx="629.1" cy="1155.69" r="5.5" fill="#FF00FF"/>
<circle cx="647.49" cy="1184.84" r="5.5" fill="#FF00FF"/>
<circle cx="665.88" cy="1170.61" r="5.5" fill="#FF00FF"/>
<circle cx="703.01" cy="1085.95" r="5.5" fill="#FF00FF"/>
<circle cx="721.4" cy="1031.12" r="5.5" fill="#FF00FF"/>
<circle cx="739.79" cy="1085.95" r="5.5" fill="#FF00FF"/>
<circle cx="758.18" cy="1122.38" r="5.5" fill="#FF00FF"/>
<circle cx="776.57" cy="1142.51" r="5.5" fill="#FF00FF"/>
<circle cx="794.96" cy="1119.6" r="5.5" fill="#FF00FF"/>
<circle cx="813.35" cy="1123.77" r="5.5" fill="#FF00FF"/>
<circle cx="831.74" cy="1171.3" r="5.5" fill="#FF00FF"/>
<circle cx="850.13" cy="1162.63" r="5.5" fill="#FF00FF"/>
<circle cx="868.52" cy="1139.04" r="5.5" fill="#FF00FF"/>
<circle cx="887.26" cy="1176.51" r="5.5" fill="#FF00FF"/>
<circle cx="905.65" cy="1127.93" r="5.5" fill="#FF00FF"/>
<rect x="1138.2" y="970" width="19.5" height="251.7" fill="#FDDAC6" stroke="none" stroke-width="0"/>
<line x1="1063.4" y1="956" x2="1063.4" y2="1222.7" stroke="#111" stroke-width="2.2"/>
<line x1="1053" y1="1221.7" x2="1396.2" y2="1221.7" stroke="#111" stroke-width="2.2"/>
<line x1="1053" y1="957.1" x2="1063.4" y2="957.1" stroke="#111" stroke-width="2"/>
<line x1="1053" y1="1001.2" x2="1063.4" y2="1001.2" stroke="#111" stroke-width="2"/>
<line x1="1053" y1="1045.3" x2="1063.4" y2="1045.3" stroke="#111" stroke-width="2"/>
<line x1="1053" y1="1089.4" x2="1063.4" y2="1089.4" stroke="#111" stroke-width="2"/>
<line x1="1053" y1="1133.5" x2="1063.4" y2="1133.5" stroke="#111" stroke-width="2"/>
<line x1="1053" y1="1177.6" x2="1063.4" y2="1177.6" stroke="#111" stroke-width="2"/>
<line x1="1053" y1="1221.7" x2="1063.4" y2="1221.7" stroke="#111" stroke-width="2"/>
<text x="0" y="0" font-size="28" text-anchor="end" fill="#000" transform="translate(1043.5,967.1) scale(1,1.04)">3</text>
<text x="0" y="0" font-size="28" text-anchor="end" fill="#000" transform="translate(1043.5,1055.3) scale(1,1.04)">2</text>
<text x="0" y="0" font-size="28" text-anchor="end" fill="#000" transform="translate(1043.5,1143.5) scale(1,1.04)">1</text>
<text x="0" y="0" font-size="28" text-anchor="end" fill="#000" transform="translate(1043.5,1231.7) scale(1,1.04)">0</text>
<line x1="1082.6" y1="1221.7" x2="1082.6" y2="1231.7" stroke="#111" stroke-width="2"/>
<text x="0" y="0" font-size="28" text-anchor="middle" fill="#000" transform="translate(1079.6,1260.3) scale(1,1.04)">-30</text>
<line x1="1137.8" y1="1221.7" x2="1137.8" y2="1231.7" stroke="#111" stroke-width="2"/>
<text x="0" y="0" font-size="28" text-anchor="middle" fill="#000" transform="translate(1137.8,1260.3) scale(1,1.04)">0</text>
<line x1="1193.5" y1="1221.7" x2="1193.5" y2="1231.7" stroke="#111" stroke-width="2"/>
<text x="0" y="0" font-size="28" text-anchor="middle" fill="#000" transform="translate(1193.5,1260.3) scale(1,1.04)">30</text>
<line x1="1248.8" y1="1221.7" x2="1248.8" y2="1231.7" stroke="#111" stroke-width="2"/>
<text x="0" y="0" font-size="28" text-anchor="middle" fill="#000" transform="translate(1248.8,1260.3) scale(1,1.04)">60</text>
<line x1="1304" y1="1221.7" x2="1304" y2="1231.7" stroke="#111" stroke-width="2"/>
<text x="0" y="0" font-size="28" text-anchor="middle" fill="#000" transform="translate(1304,1260.3) scale(1,1.04)">90</text>
<line x1="1359.3" y1="1221.7" x2="1359.3" y2="1231.7" stroke="#111" stroke-width="2"/>
<text x="0" y="0" font-size="28" text-anchor="middle" fill="#000" transform="translate(1359.3,1260.3) scale(1,1.04)">120</text>
<text x="1224.8" y="1296.8" font-size="33" text-anchor="middle" fill="#000">Time (min)</text>
<text x="0" y="0" font-size="33" text-anchor="middle" fill="#000" transform="translate(1003.5,1089.8) rotate(-90)">Arr rate (/min)</text>
<line x1="1088.82" y1="1221.7" x2="1088.82" y2="1221.7" stroke="#000" stroke-width="2.4"/>
<line x1="1085.52" y1="1221.7" x2="1092.12" y2="1221.7" stroke="#000" stroke-width="2.6"/>
<line x1="1085.52" y1="1221.7" x2="1092.12" y2="1221.7" stroke="#000" stroke-width="2.6"/>
<line x1="1106.9" y1="1217.52" x2="1106.9" y2="1219.61" stroke="#000" stroke-width="2.4"/>
<line x1="1103.6" y1="1217.52" x2="1110.2" y2="1217.52" stroke="#000" stroke-width="2.6"/>
<line x1="1103.6" y1="1219.61" x2="1110.2" y2="1219.61" stroke="#000" stroke-width="2.6"/>
<line x1="1125.67" y1="1216.48" x2="1125.67" y2="1218.57" stroke="#000" stroke-width="2.4"/>
<line x1="1122.37" y1="1216.48" x2="1128.97" y2="1216.48" stroke="#000" stroke-width="2.6"/>
<line x1="1122.37" y1="1218.57" x2="1128.97" y2="1218.57" stroke="#000" stroke-width="2.6"/>
<line x1="1162.53" y1="1214.05" x2="1162.53" y2="1216.13" stroke="#000" stroke-width="2.4"/>
<line x1="1159.23" y1="1214.05" x2="1165.83" y2="1214.05" stroke="#000" stroke-width="2.6"/>
<line x1="1159.23" y1="1216.13" x2="1165.83" y2="1216.13" stroke="#000" stroke-width="2.6"/>
<line x1="1181.31" y1="1216.48" x2="1181.31" y2="1218.57" stroke="#000" stroke-width="2.4"/>
<line x1="1178.01" y1="1216.48" x2="1184.61" y2="1216.48" stroke="#000" stroke-width="2.6"/>
<line x1="1178.01" y1="1218.57" x2="1184.61" y2="1218.57" stroke="#000" stroke-width="2.6"/>
<line x1="1199.39" y1="1218.22" x2="1199.39" y2="1220.31" stroke="#000" stroke-width="2.4"/>
<line x1="1196.09" y1="1218.22" x2="1202.69" y2="1218.22" stroke="#000" stroke-width="2.6"/>
<line x1="1196.09" y1="1220.31" x2="1202.69" y2="1220.31" stroke="#000" stroke-width="2.6"/>
<line x1="1217.82" y1="1219.26" x2="1217.82" y2="1221.35" stroke="#000" stroke-width="2.4"/>
<line x1="1214.52" y1="1219.26" x2="1221.12" y2="1219.26" stroke="#000" stroke-width="2.6"/>
<line x1="1214.52" y1="1221.35" x2="1221.12" y2="1221.35" stroke="#000" stroke-width="2.6"/>
<line x1="1236.24" y1="1218.22" x2="1236.24" y2="1220.31" stroke="#000" stroke-width="2.4"/>
<line x1="1232.94" y1="1218.22" x2="1239.54" y2="1218.22" stroke="#000" stroke-width="2.6"/>
<line x1="1232.94" y1="1220.31" x2="1239.54" y2="1220.31" stroke="#000" stroke-width="2.6"/>
<line x1="1255.02" y1="1220.65" x2="1255.02" y2="1222.74" stroke="#000" stroke-width="2.4"/>
<line x1="1251.72" y1="1220.65" x2="1258.32" y2="1220.65" stroke="#000" stroke-width="2.6"/>
<line x1="1251.72" y1="1222.74" x2="1258.32" y2="1222.74" stroke="#000" stroke-width="2.6"/>
<line x1="1273.45" y1="1218.22" x2="1273.45" y2="1220.31" stroke="#000" stroke-width="2.4"/>
<line x1="1270.15" y1="1218.22" x2="1276.75" y2="1218.22" stroke="#000" stroke-width="2.6"/>
<line x1="1270.15" y1="1220.31" x2="1276.75" y2="1220.31" stroke="#000" stroke-width="2.6"/>
<line x1="1291.53" y1="1220.65" x2="1291.53" y2="1222.74" stroke="#000" stroke-width="2.4"/>
<line x1="1288.23" y1="1220.65" x2="1294.83" y2="1220.65" stroke="#000" stroke-width="2.6"/>
<line x1="1288.23" y1="1222.74" x2="1294.83" y2="1222.74" stroke="#000" stroke-width="2.6"/>
<line x1="1310.31" y1="1219.26" x2="1310.31" y2="1221.35" stroke="#000" stroke-width="2.4"/>
<line x1="1307.01" y1="1219.26" x2="1313.61" y2="1219.26" stroke="#000" stroke-width="2.6"/>
<line x1="1307.01" y1="1221.35" x2="1313.61" y2="1221.35" stroke="#000" stroke-width="2.6"/>
<line x1="1328.39" y1="1219.61" x2="1328.39" y2="1221.7" stroke="#000" stroke-width="2.4"/>
<line x1="1325.09" y1="1219.61" x2="1331.69" y2="1219.61" stroke="#000" stroke-width="2.6"/>
<line x1="1325.09" y1="1221.7" x2="1331.69" y2="1221.7" stroke="#000" stroke-width="2.6"/>
<line x1="1346.82" y1="1219.26" x2="1346.82" y2="1221.35" stroke="#000" stroke-width="2.4"/>
<line x1="1343.52" y1="1219.26" x2="1350.12" y2="1219.26" stroke="#000" stroke-width="2.6"/>
<line x1="1343.52" y1="1221.35" x2="1350.12" y2="1221.35" stroke="#000" stroke-width="2.6"/>
<line x1="1364.9" y1="1220.65" x2="1364.9" y2="1222.74" stroke="#000" stroke-width="2.4"/>
<line x1="1361.6" y1="1220.65" x2="1368.2" y2="1220.65" stroke="#000" stroke-width="2.6"/>
<line x1="1361.6" y1="1222.74" x2="1368.2" y2="1222.74" stroke="#000" stroke-width="2.6"/>
<polyline points="1088.82,1221.7 1106.9,1218.57 1125.67,1217.52" fill="none" stroke="#000" stroke-width="2.4" stroke-linejoin="round"/>
<polyline points="1162.53,1215.09 1181.31,1217.52 1199.39,1219.26 1217.82,1220.31 1236.24,1219.26 1255.02,1221.7 1273.45,1219.26 1291.53,1221.7 1310.31,1220.31 1328.39,1220.65 1346.82,1220.31 1364.9,1221.7" fill="none" stroke="#000" stroke-width="2.4" stroke-linejoin="round"/>
<line x1="1094.73" y1="1221.7" x2="1094.73" y2="1221.7" stroke="#000" stroke-width="2.4"/>
<line x1="1091.43" y1="1221.7" x2="1098.03" y2="1221.7" stroke="#000" stroke-width="2.6"/>
<line x1="1091.43" y1="1221.7" x2="1098.03" y2="1221.7" stroke="#000" stroke-width="2.6"/>
<line x1="1112.81" y1="1221.7" x2="1112.81" y2="1221.7" stroke="#000" stroke-width="2.4"/>
<line x1="1109.51" y1="1221.7" x2="1116.11" y2="1221.7" stroke="#000" stroke-width="2.6"/>
<line x1="1109.51" y1="1221.7" x2="1116.11" y2="1221.7" stroke="#000" stroke-width="2.6"/>
<line x1="1130.89" y1="1221.7" x2="1130.89" y2="1221.7" stroke="#000" stroke-width="2.4"/>
<line x1="1127.59" y1="1221.7" x2="1134.19" y2="1221.7" stroke="#000" stroke-width="2.6"/>
<line x1="1127.59" y1="1221.7" x2="1134.19" y2="1221.7" stroke="#000" stroke-width="2.6"/>
<line x1="1167.75" y1="1142.07" x2="1167.75" y2="1180.32" stroke="#000" stroke-width="2.4"/>
<line x1="1164.45" y1="1142.07" x2="1171.05" y2="1142.07" stroke="#000" stroke-width="2.6"/>
<line x1="1164.45" y1="1180.32" x2="1171.05" y2="1180.32" stroke="#000" stroke-width="2.6"/>
<line x1="1186.87" y1="1023.85" x2="1186.87" y2="1112.52" stroke="#000" stroke-width="2.4"/>
<line x1="1183.57" y1="1023.85" x2="1190.17" y2="1023.85" stroke="#000" stroke-width="2.6"/>
<line x1="1183.57" y1="1112.52" x2="1190.17" y2="1112.52" stroke="#000" stroke-width="2.6"/>
<line x1="1204.95" y1="1117.73" x2="1204.95" y2="1176.84" stroke="#000" stroke-width="2.4"/>
<line x1="1201.65" y1="1117.73" x2="1208.25" y2="1117.73" stroke="#000" stroke-width="2.6"/>
<line x1="1201.65" y1="1176.84" x2="1208.25" y2="1176.84" stroke="#000" stroke-width="2.6"/>
<line x1="1223.73" y1="1178.58" x2="1223.73" y2="1209.18" stroke="#000" stroke-width="2.4"/>
<line x1="1220.43" y1="1178.58" x2="1227.03" y2="1178.58" stroke="#000" stroke-width="2.6"/>
<line x1="1220.43" y1="1209.18" x2="1227.03" y2="1209.18" stroke="#000" stroke-width="2.6"/>
<line x1="1241.81" y1="1208.14" x2="1241.81" y2="1213" stroke="#000" stroke-width="2.4"/>
<line x1="1238.51" y1="1208.14" x2="1245.11" y2="1208.14" stroke="#000" stroke-width="2.6"/>
<line x1="1238.51" y1="1213" x2="1245.11" y2="1213" stroke="#000" stroke-width="2.6"/>
<line x1="1260.58" y1="1195.97" x2="1260.58" y2="1212.66" stroke="#000" stroke-width="2.4"/>
<line x1="1257.28" y1="1195.97" x2="1263.88" y2="1195.97" stroke="#000" stroke-width="2.6"/>
<line x1="1257.28" y1="1212.66" x2="1263.88" y2="1212.66" stroke="#000" stroke-width="2.6"/>
<line x1="1279.01" y1="1183.8" x2="1279.01" y2="1209.87" stroke="#000" stroke-width="2.4"/>
<line x1="1275.71" y1="1183.8" x2="1282.31" y2="1183.8" stroke="#000" stroke-width="2.6"/>
<line x1="1275.71" y1="1209.87" x2="1282.31" y2="1209.87" stroke="#000" stroke-width="2.6"/>
<line x1="1296.4" y1="1209.87" x2="1296.4" y2="1213.35" stroke="#000" stroke-width="2.4"/>
<line x1="1293.1" y1="1209.87" x2="1299.7" y2="1209.87" stroke="#000" stroke-width="2.6"/>
<line x1="1293.1" y1="1213.35" x2="1299.7" y2="1213.35" stroke="#000" stroke-width="2.6"/>
<line x1="1315.17" y1="1214.39" x2="1315.17" y2="1217.87" stroke="#000" stroke-width="2.4"/>
<line x1="1311.87" y1="1214.39" x2="1318.47" y2="1214.39" stroke="#000" stroke-width="2.6"/>
<line x1="1311.87" y1="1217.87" x2="1318.47" y2="1217.87" stroke="#000" stroke-width="2.6"/>
<line x1="1333.6" y1="1215.79" x2="1333.6" y2="1219.26" stroke="#000" stroke-width="2.4"/>
<line x1="1330.3" y1="1215.79" x2="1336.9" y2="1215.79" stroke="#000" stroke-width="2.6"/>
<line x1="1330.3" y1="1219.26" x2="1336.9" y2="1219.26" stroke="#000" stroke-width="2.6"/>
<line x1="1352.38" y1="1212.31" x2="1352.38" y2="1215.79" stroke="#000" stroke-width="2.4"/>
<line x1="1349.08" y1="1212.31" x2="1355.68" y2="1212.31" stroke="#000" stroke-width="2.6"/>
<line x1="1349.08" y1="1215.79" x2="1355.68" y2="1215.79" stroke="#000" stroke-width="2.6"/>
<line x1="1370.46" y1="1214.39" x2="1370.46" y2="1217.87" stroke="#000" stroke-width="2.4"/>
<line x1="1367.16" y1="1214.39" x2="1373.76" y2="1214.39" stroke="#000" stroke-width="2.6"/>
<line x1="1367.16" y1="1217.87" x2="1373.76" y2="1217.87" stroke="#000" stroke-width="2.6"/>
<polyline points="1094.73,1221.7 1112.81,1221.7 1130.89,1221.7" fill="none" stroke="#000" stroke-width="2.4" stroke-linejoin="round"/>
<polyline points="1167.75,1161.89 1186.87,1068.36 1204.95,1147.29 1223.73,1194.23 1241.81,1210.57 1260.58,1203.62 1279.01,1196.66 1296.4,1211.61 1315.17,1216.13 1333.6,1217.52 1352.38,1214.05 1370.46,1216.13" fill="none" stroke="#000" stroke-width="2.4" stroke-linejoin="round"/>
<circle cx="1088.82" cy="1221.7" r="5.5" fill="#14A914"/>
<circle cx="1106.9" cy="1218.57" r="5.5" fill="#14A914"/>
<circle cx="1125.67" cy="1217.52" r="5.5" fill="#14A914"/>
<circle cx="1162.53" cy="1215.09" r="5.5" fill="#14A914"/>
<circle cx="1181.31" cy="1217.52" r="5.5" fill="#14A914"/>
<circle cx="1199.39" cy="1219.26" r="5.5" fill="#14A914"/>
<circle cx="1217.82" cy="1220.31" r="5.5" fill="#14A914"/>
<circle cx="1236.24" cy="1219.26" r="5.5" fill="#14A914"/>
<circle cx="1255.02" cy="1221.7" r="5.5" fill="#14A914"/>
<circle cx="1273.45" cy="1219.26" r="5.5" fill="#14A914"/>
<circle cx="1291.53" cy="1221.7" r="5.5" fill="#14A914"/>
<circle cx="1310.31" cy="1220.31" r="5.5" fill="#14A914"/>
<circle cx="1328.39" cy="1220.65" r="5.5" fill="#14A914"/>
<circle cx="1346.82" cy="1220.31" r="5.5" fill="#14A914"/>
<circle cx="1364.9" cy="1221.7" r="5.5" fill="#14A914"/>
<circle cx="1094.73" cy="1221.7" r="5.5" fill="#FF00FF"/>
<circle cx="1112.81" cy="1221.7" r="5.5" fill="#FF00FF"/>
<circle cx="1130.89" cy="1221.7" r="5.5" fill="#FF00FF"/>
<circle cx="1167.75" cy="1161.89" r="5.5" fill="#FF00FF"/>
<circle cx="1186.87" cy="1068.36" r="5.5" fill="#FF00FF"/>
<circle cx="1204.95" cy="1147.29" r="5.5" fill="#FF00FF"/>
<circle cx="1223.73" cy="1194.23" r="5.5" fill="#FF00FF"/>
<circle cx="1241.81" cy="1210.57" r="5.5" fill="#FF00FF"/>
<circle cx="1260.58" cy="1203.62" r="5.5" fill="#FF00FF"/>
<circle cx="1279.01" cy="1196.66" r="5.5" fill="#FF00FF"/>
<circle cx="1296.4" cy="1211.61" r="5.5" fill="#FF00FF"/>
<circle cx="1315.17" cy="1216.13" r="5.5" fill="#FF00FF"/>
<circle cx="1333.6" cy="1217.52" r="5.5" fill="#FF00FF"/>
<circle cx="1352.38" cy="1214.05" r="5.5" fill="#FF00FF"/>
<circle cx="1370.46" cy="1216.13" r="5.5" fill="#FF00FF"/>
<text x="0" y="0" font-size="56" text-anchor="start" fill="#000" transform="translate(-3.1,1409.4) scale(1,1.04)">D</text>
<text x="0" y="0" font-size="42" text-anchor="start" fill="#000" transform="translate(79.2,1411) scale(1,1.04)">SD</text>
<line x1="162.8" y1="1458" x2="162.8" y2="1654.8" stroke="#111" stroke-width="2.2"/>
<line x1="151.6" y1="1653.7" x2="828" y2="1653.7" stroke="#111" stroke-width="2.2"/>
<line x1="151.6" y1="1653.7" x2="162.8" y2="1653.7" stroke="#111" stroke-width="2"/>
<line x1="151.6" y1="1621.25" x2="162.8" y2="1621.25" stroke="#111" stroke-width="2"/>
<line x1="151.6" y1="1588.8" x2="162.8" y2="1588.8" stroke="#111" stroke-width="2"/>
<line x1="151.6" y1="1556.35" x2="162.8" y2="1556.35" stroke="#111" stroke-width="2"/>
<line x1="151.6" y1="1523.9" x2="162.8" y2="1523.9" stroke="#111" stroke-width="2"/>
<line x1="151.6" y1="1491.45" x2="162.8" y2="1491.45" stroke="#111" stroke-width="2"/>
<line x1="151.6" y1="1459" x2="162.8" y2="1459" stroke="#111" stroke-width="2"/>
<text x="0" y="0" font-size="28" text-anchor="end" fill="#000" transform="translate(140.5,1469) scale(1,1.04)">600</text>
<text x="0" y="0" font-size="28" text-anchor="end" fill="#000" transform="translate(140.5,1533.9) scale(1,1.04)">400</text>
<text x="0" y="0" font-size="28" text-anchor="end" fill="#000" transform="translate(140.5,1598.8) scale(1,1.04)">200</text>
<text x="0" y="0" font-size="28" text-anchor="end" fill="#000" transform="translate(140.5,1663.7) scale(1,1.04)">0</text>
<text x="0" y="0" font-size="33" text-anchor="middle" fill="#000" transform="translate(81.2,1543.6) rotate(-90)">Duration  (s)</text>
<line x1="196.2" y1="1503.3" x2="196.2" y2="1524.3" stroke="#000" stroke-width="2.2"/>
<line x1="188.2" y1="1524.3" x2="204.2" y2="1524.3" stroke="#000" stroke-width="2.2"/>
<rect x="179.2" y="1459" width="34" height="44.3" fill="#fff" stroke="#000" stroke-width="2.6"/>
<line x1="180.5" y1="1459" x2="211.9" y2="1459" stroke="#a0a0a0" stroke-width="3"/>
<circle cx="196.2" cy="1459.3" r="5.5" fill="#FF00FF"/>
<circle cx="196.2" cy="1518" r="5.5" fill="#FF00FF"/>
<circle cx="196.2" cy="1524.3" r="5.5" fill="#FF00FF"/>
<rect x="245.4" y="1459" width="34" height="97.6" fill="#fff" stroke="#000" stroke-width="2.6"/>
<line x1="246.7" y1="1459" x2="278.1" y2="1459" stroke="#a0a0a0" stroke-width="3"/>
<circle cx="262.4" cy="1459" r="5.5" fill="#14A914"/>
<circle cx="262.4" cy="1498.3" r="5.5" fill="#14A914"/>
<circle cx="262.4" cy="1556.6" r="5.5" fill="#14A914"/>
<line x1="196.2" y1="1430" x2="262.4" y2="1430" stroke="#000" stroke-width="2.5"/>
<text x="229.3" y="1420" font-size="23.5" text-anchor="middle" fill="#000">n.s.</text>
<text x="0" y="0" font-size="28" text-anchor="start" fill="#FF00FF" transform="translate(203.7,1813.8) rotate(-90)">Susceptible</text>
<text x="0" y="0" font-size="28" text-anchor="start" fill="#14A914" transform="translate(269.2,1774) rotate(-90)">Resilient</text>
<text x="229.3" y="1850.5" font-size="28" text-anchor="middle" fill="#000">Total</text>
<line x1="328.8" y1="1599.4" x2="328.8" y2="1610" stroke="#000" stroke-width="2.2"/>
<line x1="320.8" y1="1599.4" x2="336.8" y2="1599.4" stroke="#000" stroke-width="2.2"/>
<line x1="328.8" y1="1646.4" x2="328.8" y2="1653.7" stroke="#000" stroke-width="2.2"/>
<line x1="320.8" y1="1653.7" x2="336.8" y2="1653.7" stroke="#000" stroke-width="2.2"/>
<rect x="311.8" y="1610" width="34" height="36.4" fill="#fff" stroke="#000" stroke-width="2.6"/>
<line x1="313.1" y1="1620.8" x2="344.5" y2="1620.8" stroke="#a0a0a0" stroke-width="3"/>
<circle cx="328.8" cy="1599.4" r="5.5" fill="#FF00FF"/>
<circle cx="328.8" cy="1606" r="5.5" fill="#FF00FF"/>
<circle cx="328.8" cy="1612" r="5.5" fill="#FF00FF"/>
<circle cx="328.8" cy="1618" r="5.5" fill="#FF00FF"/>
<circle cx="328.8" cy="1623" r="5.5" fill="#FF00FF"/>
<circle cx="328.8" cy="1653.7" r="5.5" fill="#FF00FF"/>
<line x1="395" y1="1603.6" x2="395" y2="1617.6" stroke="#000" stroke-width="2.2"/>
<line x1="387" y1="1603.6" x2="403" y2="1603.6" stroke="#000" stroke-width="2.2"/>
<rect x="378" y="1617.6" width="34" height="36.1" fill="#fff" stroke="#000" stroke-width="2.6"/>
<line x1="379.3" y1="1632.3" x2="410.7" y2="1632.3" stroke="#a0a0a0" stroke-width="3"/>
<circle cx="395" cy="1603.6" r="5.5" fill="#14A914"/>
<circle cx="395" cy="1612" r="5.5" fill="#14A914"/>
<circle cx="395" cy="1620" r="5.5" fill="#14A914"/>
<circle cx="395" cy="1628" r="5.5" fill="#14A914"/>
<circle cx="395" cy="1636" r="5.5" fill="#14A914"/>
<circle cx="395" cy="1645" r="5.5" fill="#14A914"/>
<circle cx="395" cy="1650" r="5.5" fill="#14A914"/>
<circle cx="395" cy="1653.7" r="5.5" fill="#14A914"/>
<line x1="328.8" y1="1430" x2="395" y2="1430" stroke="#000" stroke-width="2.5"/>
<text x="361.9" y="1420" font-size="23.5" text-anchor="middle" fill="#000">n.s.</text>
<text x="0" y="0" font-size="28" text-anchor="start" fill="#FF00FF" transform="translate(336.3,1813.8) rotate(-90)">Susceptible</text>
<text x="0" y="0" font-size="28" text-anchor="start" fill="#14A914" transform="translate(401.8,1774) rotate(-90)">Resilient</text>
<text x="361.9" y="1844.6" font-size="28" text-anchor="middle" fill="#000">Severe</text>
<text x="361.9" y="1876.5" font-size="28" text-anchor="middle" fill="#000">attack</text>
<rect x="444.2" y="1647.3" width="34" height="6.4" fill="#fff" stroke="#000" stroke-width="2.6"/>
<line x1="445.5" y1="1650.5" x2="476.9" y2="1650.5" stroke="#a0a0a0" stroke-width="3"/>
<circle cx="461.2" cy="1626.6" r="5.5" fill="#FF00FF"/>
<circle cx="461.2" cy="1645.7" r="5.5" fill="#FF00FF"/>
<circle cx="461.2" cy="1650.5" r="5.5" fill="#FF00FF"/>
<circle cx="461.2" cy="1653.7" r="5.5" fill="#FF00FF"/>
<line x1="527.9" y1="1641.9" x2="527.9" y2="1649" stroke="#000" stroke-width="2.2"/>
<line x1="519.9" y1="1641.9" x2="535.9" y2="1641.9" stroke="#000" stroke-width="2.2"/>
<rect x="510.9" y="1649" width="34" height="4.7" fill="#fff" stroke="#000" stroke-width="2.6"/>
<line x1="512.2" y1="1651.3" x2="543.6" y2="1651.3" stroke="#a0a0a0" stroke-width="3"/>
<circle cx="527.9" cy="1622.8" r="5.5" fill="#14A914"/>
<circle cx="527.9" cy="1641.9" r="5.5" fill="#14A914"/>
<circle cx="527.9" cy="1645" r="5.5" fill="#14A914"/>
<circle cx="527.9" cy="1648" r="5.5" fill="#14A914"/>
<circle cx="527.9" cy="1651" r="5.5" fill="#14A914"/>
<circle cx="527.9" cy="1653.7" r="5.5" fill="#14A914"/>
<line x1="461.2" y1="1430" x2="527.9" y2="1430" stroke="#000" stroke-width="2.5"/>
<text x="494.55" y="1420" font-size="23.5" text-anchor="middle" fill="#000">n.s.</text>
<text x="0" y="0" font-size="28" text-anchor="start" fill="#FF00FF" transform="translate(468.7,1813.8) rotate(-90)">Susceptible</text>
<text x="0" y="0" font-size="28" text-anchor="start" fill="#14A914" transform="translate(534.7,1774) rotate(-90)">Resilient</text>
<text x="494.55" y="1844.6" font-size="28" text-anchor="middle" fill="#000">Mild</text>
<text x="494.55" y="1876.5" font-size="28" text-anchor="middle" fill="#000">attack</text>
<line x1="594" y1="1576.4" x2="594" y2="1579" stroke="#000" stroke-width="2.2"/>
<line x1="586" y1="1576.4" x2="602" y2="1576.4" stroke="#000" stroke-width="2.2"/>
<line x1="594" y1="1615.7" x2="594" y2="1637.7" stroke="#000" stroke-width="2.2"/>
<line x1="586" y1="1637.7" x2="602" y2="1637.7" stroke="#000" stroke-width="2.2"/>
<rect x="577" y="1579" width="34" height="36.7" fill="#fff" stroke="#000" stroke-width="2.6"/>
<line x1="578.3" y1="1591.2" x2="609.7" y2="1591.2" stroke="#a0a0a0" stroke-width="3"/>
<circle cx="594" cy="1577" r="5.5" fill="#FF00FF"/>
<circle cx="594" cy="1580.3" r="5.5" fill="#FF00FF"/>
<circle cx="594" cy="1590" r="5.5" fill="#FF00FF"/>
<circle cx="594" cy="1609.2" r="5.5" fill="#FF00FF"/>
<circle cx="594" cy="1615.6" r="5.5" fill="#FF00FF"/>
<circle cx="594" cy="1637.9" r="5.5" fill="#FF00FF"/>
<line x1="660.7" y1="1590" x2="660.7" y2="1596.9" stroke="#000" stroke-width="2.2"/>
<line x1="652.7" y1="1590" x2="668.7" y2="1590" stroke="#000" stroke-width="2.2"/>
<line x1="660.7" y1="1626" x2="660.7" y2="1631.3" stroke="#000" stroke-width="2.2"/>
<line x1="652.7" y1="1631.3" x2="668.7" y2="1631.3" stroke="#000" stroke-width="2.2"/>
<rect x="643.7" y="1596.9" width="34" height="29.1" fill="#fff" stroke="#000" stroke-width="2.6"/>
<line x1="645" y1="1617" x2="676.4" y2="1617" stroke="#a0a0a0" stroke-width="3"/>
<circle cx="660.7" cy="1590" r="5.5" fill="#14A914"/>
<circle cx="660.7" cy="1598" r="5.5" fill="#14A914"/>
<circle cx="660.7" cy="1606" r="5.5" fill="#14A914"/>
<circle cx="660.7" cy="1609" r="5.5" fill="#14A914"/>
<circle cx="660.7" cy="1615.5" r="5.5" fill="#14A914"/>
<circle cx="660.7" cy="1620" r="5.5" fill="#14A914"/>
<circle cx="660.7" cy="1626.6" r="5.5" fill="#14A914"/>
<circle cx="660.7" cy="1631.4" r="5.5" fill="#14A914"/>
<line x1="594" y1="1430" x2="660.7" y2="1430" stroke="#000" stroke-width="2.5"/>
<text x="627.35" y="1420" font-size="23.5" text-anchor="middle" fill="#000">n.s.</text>
<text x="0" y="0" font-size="28" text-anchor="start" fill="#FF00FF" transform="translate(601.5,1813.8) rotate(-90)">Susceptible</text>
<text x="0" y="0" font-size="28" text-anchor="start" fill="#14A914" transform="translate(667.5,1774) rotate(-90)">Resilient</text>
<text x="627.35" y="1850.5" font-size="28" text-anchor="middle" fill="#000">Sniffing</text>
<line x1="726.8" y1="1555" x2="726.8" y2="1558.2" stroke="#000" stroke-width="2.2"/>
<line x1="718.8" y1="1555" x2="734.8" y2="1555" stroke="#000" stroke-width="2.2"/>
<line x1="726.8" y1="1585.4" x2="726.8" y2="1594" stroke="#000" stroke-width="2.2"/>
<line x1="718.8" y1="1594" x2="734.8" y2="1594" stroke="#000" stroke-width="2.2"/>
<rect x="709.8" y="1558.2" width="34" height="27.2" fill="#fff" stroke="#000" stroke-width="2.6"/>
<line x1="711.1" y1="1576.4" x2="742.5" y2="1576.4" stroke="#a0a0a0" stroke-width="3"/>
<circle cx="726.8" cy="1505.9" r="5.5" fill="#FF00FF"/>
<circle cx="726.8" cy="1555.2" r="5.5" fill="#FF00FF"/>
<circle cx="726.8" cy="1567.7" r="5.5" fill="#FF00FF"/>
<circle cx="726.8" cy="1574" r="5.5" fill="#FF00FF"/>
<circle cx="726.8" cy="1580.4" r="5.5" fill="#FF00FF"/>
<circle cx="726.8" cy="1586.8" r="5.5" fill="#FF00FF"/>
<circle cx="726.8" cy="1594.8" r="5.5" fill="#FF00FF"/>
<line x1="793.2" y1="1482" x2="793.2" y2="1524.7" stroke="#000" stroke-width="2.2"/>
<line x1="785.2" y1="1482" x2="801.2" y2="1482" stroke="#000" stroke-width="2.2"/>
<line x1="793.2" y1="1616" x2="793.2" y2="1629.7" stroke="#000" stroke-width="2.2"/>
<line x1="785.2" y1="1629.7" x2="801.2" y2="1629.7" stroke="#000" stroke-width="2.2"/>
<rect x="776.2" y="1524.7" width="34" height="91.3" fill="#fff" stroke="#000" stroke-width="2.6"/>
<line x1="777.5" y1="1549.6" x2="808.9" y2="1549.6" stroke="#a0a0a0" stroke-width="3"/>
<circle cx="793.2" cy="1482" r="5.5" fill="#14A914"/>
<circle cx="793.2" cy="1504.4" r="5.5" fill="#14A914"/>
<circle cx="793.2" cy="1521.3" r="5.5" fill="#14A914"/>
<circle cx="793.2" cy="1529.3" r="5.5" fill="#14A914"/>
<circle cx="793.2" cy="1537.3" r="5.5" fill="#14A914"/>
<circle cx="793.2" cy="1545.3" r="5.5" fill="#14A914"/>
<circle cx="793.2" cy="1551.7" r="5.5" fill="#14A914"/>
<circle cx="793.2" cy="1559.7" r="5.5" fill="#14A914"/>
<circle cx="793.2" cy="1614" r="5.5" fill="#14A914"/>
<circle cx="793.2" cy="1622" r="5.5" fill="#14A914"/>
<circle cx="793.2" cy="1629.9" r="5.5" fill="#14A914"/>
<line x1="726.8" y1="1430" x2="793.2" y2="1430" stroke="#000" stroke-width="2.5"/>
<text x="760" y="1420" font-size="23.5" text-anchor="middle" fill="#000">n.s.</text>
<text x="0" y="0" font-size="28" text-anchor="start" fill="#FF00FF" transform="translate(734.3,1813.8) rotate(-90)">Susceptible</text>
<text x="0" y="0" font-size="28" text-anchor="start" fill="#14A914" transform="translate(800,1774) rotate(-90)">Resilient</text>
<text x="760" y="1844.6" font-size="28" text-anchor="middle" fill="#000">No</text>
<text x="760" y="1876.5" font-size="28" text-anchor="middle" fill="#000">interactions</text>
<text x="0" y="0" font-size="56" text-anchor="start" fill="#000" transform="translate(857.6,1409.4) scale(1,1.04)">E</text>
<text x="0" y="0" font-size="42" text-anchor="start" fill="#000" transform="translate(909.8,1411.3) scale(1,1.04)">Pre</text>
<line x1="1006" y1="1454" x2="1006" y2="1655" stroke="#111" stroke-width="2.2"/>
<line x1="995" y1="1654" x2="1140.2" y2="1654" stroke="#111" stroke-width="2.2"/>
<line x1="995" y1="1454.8" x2="1006" y2="1454.8" stroke="#111" stroke-width="2"/>
<line x1="995" y1="1504.6" x2="1006" y2="1504.6" stroke="#111" stroke-width="2"/>
<line x1="995" y1="1554.4" x2="1006" y2="1554.4" stroke="#111" stroke-width="2"/>
<line x1="995" y1="1604.2" x2="1006" y2="1604.2" stroke="#111" stroke-width="2"/>
<line x1="995" y1="1654" x2="1006" y2="1654" stroke="#111" stroke-width="2"/>
<text x="0" y="0" font-size="28" text-anchor="end" fill="#000" transform="translate(989.5,1464.8) scale(1,1.04)">20</text>
<text x="0" y="0" font-size="28" text-anchor="end" fill="#000" transform="translate(989.5,1564.4) scale(1,1.04)">10</text>
<text x="0" y="0" font-size="28" text-anchor="end" fill="#000" transform="translate(989.5,1664) scale(1,1.04)">0</text>
<text x="0" y="0" font-size="33" text-anchor="middle" fill="#000" transform="translate(944.1,1549) rotate(-90)">Speed (cm/s)</text>
<line x1="1039.4" y1="1521.3" x2="1039.4" y2="1572" stroke="#000" stroke-width="2.2"/>
<line x1="1031.4" y1="1521.3" x2="1047.4" y2="1521.3" stroke="#000" stroke-width="2.2"/>
<line x1="1039.4" y1="1616.9" x2="1039.4" y2="1629.4" stroke="#000" stroke-width="2.2"/>
<line x1="1031.4" y1="1629.4" x2="1047.4" y2="1629.4" stroke="#000" stroke-width="2.2"/>
<rect x="1025.7" y="1572" width="27.4" height="44.9" fill="#fff" stroke="#000" stroke-width="2.6"/>
<line x1="1027" y1="1602.7" x2="1051.8" y2="1602.7" stroke="#a0a0a0" stroke-width="3"/>
<circle cx="1039.4" cy="1521.3" r="5.5" fill="#FF00FF"/>
<circle cx="1039.4" cy="1568.9" r="5.5" fill="#FF00FF"/>
<circle cx="1039.4" cy="1581.8" r="5.5" fill="#FF00FF"/>
<circle cx="1039.4" cy="1603.1" r="5.5" fill="#FF00FF"/>
<circle cx="1039.4" cy="1614" r="5.5" fill="#FF00FF"/>
<circle cx="1039.4" cy="1629.4" r="5.5" fill="#FF00FF"/>
<line x1="1105.6" y1="1522" x2="1105.6" y2="1572" stroke="#000" stroke-width="2.2"/>
<line x1="1097.6" y1="1522" x2="1113.6" y2="1522" stroke="#000" stroke-width="2.2"/>
<line x1="1105.6" y1="1621.3" x2="1105.6" y2="1637.4" stroke="#000" stroke-width="2.2"/>
<line x1="1097.6" y1="1637.4" x2="1113.6" y2="1637.4" stroke="#000" stroke-width="2.2"/>
<rect x="1092.1" y="1572" width="27" height="49.3" fill="#fff" stroke="#000" stroke-width="2.6"/>
<line x1="1093.4" y1="1603.5" x2="1117.8" y2="1603.5" stroke="#a0a0a0" stroke-width="3"/>
<circle cx="1105.6" cy="1491" r="5.5" fill="#14A914"/>
<circle cx="1105.6" cy="1522.1" r="5.5" fill="#14A914"/>
<circle cx="1105.6" cy="1568.9" r="5.5" fill="#14A914"/>
<circle cx="1105.6" cy="1573.7" r="5.5" fill="#14A914"/>
<circle cx="1105.6" cy="1585.8" r="5.5" fill="#14A914"/>
<circle cx="1105.6" cy="1602" r="5.5" fill="#14A914"/>
<circle cx="1105.6" cy="1606" r="5.5" fill="#14A914"/>
<circle cx="1105.6" cy="1612" r="5.5" fill="#14A914"/>
<circle cx="1105.6" cy="1618" r="5.5" fill="#14A914"/>
<circle cx="1105.6" cy="1624.1" r="5.5" fill="#14A914"/>
<circle cx="1105.6" cy="1636.2" r="5.5" fill="#14A914"/>
<circle cx="1105.6" cy="1638.2" r="5.5" fill="#14A914"/>
<line x1="1040.2" y1="1449.1" x2="1106" y2="1449.1" stroke="#000" stroke-width="2.5"/>
<text x="1073" y="1437.4" font-size="23.5" text-anchor="middle" fill="#000">n.s.</text>
<line x1="1280.2" y1="1454" x2="1280.2" y2="1652.2" stroke="#111" stroke-width="2.2"/>
<line x1="1268.5" y1="1651.1" x2="1412.4" y2="1651.1" stroke="#111" stroke-width="2.2"/>
<line x1="1268.5" y1="1651.1" x2="1280.2" y2="1651.1" stroke="#111" stroke-width="2"/>
<line x1="1268.5" y1="1618.38" x2="1280.2" y2="1618.38" stroke="#111" stroke-width="2"/>
<line x1="1268.5" y1="1585.67" x2="1280.2" y2="1585.67" stroke="#111" stroke-width="2"/>
<line x1="1268.5" y1="1552.95" x2="1280.2" y2="1552.95" stroke="#111" stroke-width="2"/>
<line x1="1268.5" y1="1520.24" x2="1280.2" y2="1520.24" stroke="#111" stroke-width="2"/>
<line x1="1268.5" y1="1487.52" x2="1280.2" y2="1487.52" stroke="#111" stroke-width="2"/>
<line x1="1268.5" y1="1454.8" x2="1280.2" y2="1454.8" stroke="#111" stroke-width="2"/>
<text x="0" y="0" font-size="28" text-anchor="end" fill="#000" transform="translate(1262.5,1464.8) scale(1,1.04)">1200</text>
<text x="0" y="0" font-size="28" text-anchor="end" fill="#000" transform="translate(1262.5,1562.95) scale(1,1.04)">600</text>
<text x="0" y="0" font-size="28" text-anchor="end" fill="#000" transform="translate(1262.5,1661.1) scale(1,1.04)">0</text>
<text x="0" y="0" font-size="33" text-anchor="middle" fill="#000" transform="translate(1188,1554.5) rotate(-90)">Sleep duration (s)</text>
<rect x="1299.7" y="1608.8" width="27" height="42.3" fill="#fff" stroke="#000" stroke-width="2.6"/>
<line x1="1301" y1="1624.1" x2="1325.4" y2="1624.1" stroke="#a0a0a0" stroke-width="3"/>
<circle cx="1313.2" cy="1509.2" r="5.5" fill="#FF00FF"/>
<circle cx="1313.2" cy="1606.8" r="5.5" fill="#FF00FF"/>
<circle cx="1313.2" cy="1612" r="5.5" fill="#FF00FF"/>
<circle cx="1313.2" cy="1624.1" r="5.5" fill="#FF00FF"/>
<circle cx="1313.2" cy="1651.1" r="5.5" fill="#FF00FF"/>
<line x1="1379.4" y1="1477" x2="1379.4" y2="1551.1" stroke="#000" stroke-width="2.2"/>
<line x1="1371.4" y1="1477" x2="1387.4" y2="1477" stroke="#000" stroke-width="2.2"/>
<rect x="1365.9" y="1551.1" width="27" height="94.8" fill="#fff" stroke="#000" stroke-width="2.6"/>
<line x1="1367.2" y1="1618.5" x2="1391.6" y2="1618.5" stroke="#a0a0a0" stroke-width="3"/>
<circle cx="1379.4" cy="1477" r="5.5" fill="#14A914"/>
<circle cx="1379.4" cy="1493.9" r="5.5" fill="#14A914"/>
<circle cx="1379.4" cy="1515.2" r="5.5" fill="#14A914"/>
<circle cx="1379.4" cy="1587.8" r="5.5" fill="#14A914"/>
<circle cx="1379.4" cy="1590.6" r="5.5" fill="#14A914"/>
<circle cx="1379.4" cy="1605.2" r="5.5" fill="#14A914"/>
<circle cx="1379.4" cy="1632.2" r="5.5" fill="#14A914"/>
<circle cx="1379.4" cy="1638.2" r="5.5" fill="#14A914"/>
<circle cx="1379.4" cy="1642.3" r="5.5" fill="#14A914"/>
<circle cx="1379.4" cy="1647.1" r="5.5" fill="#14A914"/>
<circle cx="1379.4" cy="1651.1" r="5.5" fill="#14A914"/>
<line x1="1313" y1="1449.1" x2="1379" y2="1449.1" stroke="#000" stroke-width="2.5"/>
<text x="1346" y="1437.4" font-size="23.5" text-anchor="middle" fill="#000">n.s.</text>
<text x="0" y="0" font-size="28" text-anchor="start" fill="#FF00FF" transform="translate(1048.4,1813) rotate(-90)">Susceptible</text>
<text x="0" y="0" font-size="28" text-anchor="start" fill="#14A914" transform="translate(1114.1,1773.5) rotate(-90)">Resilient</text>
<text x="0" y="0" font-size="28" text-anchor="start" fill="#FF00FF" transform="translate(1322.2,1813) rotate(-90)">Susceptible</text>
<text x="0" y="0" font-size="28" text-anchor="start" fill="#14A914" transform="translate(1387.9,1773.5) rotate(-90)">Resilient</text>
<text x="0" y="0" font-size="56" text-anchor="start" fill="#000" transform="translate(-3.2,1968) scale(1,1.04)">F</text>
<line x1="164.6" y1="1943" x2="164.6" y2="2208.3" stroke="#111" stroke-width="2.2"/>
<line x1="164.6" y1="2207.3" x2="428.6" y2="2207.3" stroke="#111" stroke-width="2.2"/>
<line x1="154.1" y1="2207.56" x2="164.6" y2="2207.56" stroke="#111" stroke-width="2"/>
<line x1="154.1" y1="2178.28" x2="164.6" y2="2178.28" stroke="#111" stroke-width="2"/>
<line x1="154.1" y1="2149" x2="164.6" y2="2149" stroke="#111" stroke-width="2"/>
<line x1="154.1" y1="2119.72" x2="164.6" y2="2119.72" stroke="#111" stroke-width="2"/>
<line x1="154.1" y1="2090.44" x2="164.6" y2="2090.44" stroke="#111" stroke-width="2"/>
<line x1="154.1" y1="2061.16" x2="164.6" y2="2061.16" stroke="#111" stroke-width="2"/>
<line x1="154.1" y1="2031.88" x2="164.6" y2="2031.88" stroke="#111" stroke-width="2"/>
<line x1="154.1" y1="2002.6" x2="164.6" y2="2002.6" stroke="#111" stroke-width="2"/>
<line x1="154.1" y1="1973.32" x2="164.6" y2="1973.32" stroke="#111" stroke-width="2"/>
<line x1="154.1" y1="1944.04" x2="164.6" y2="1944.04" stroke="#111" stroke-width="2"/>
<text x="0" y="0" font-size="28" text-anchor="end" fill="#000" transform="translate(147.5,1983.3) scale(1,1.04)">0.06</text>
<text x="0" y="0" font-size="28" text-anchor="end" fill="#000" transform="translate(147.5,2041.9) scale(1,1.04)">0.04</text>
<text x="0" y="0" font-size="28" text-anchor="end" fill="#000" transform="translate(147.5,2100.5) scale(1,1.04)">0.02</text>
<text x="0" y="0" font-size="28" text-anchor="end" fill="#000" transform="translate(147.5,2159) scale(1,1.04)">0</text>
<text x="0" y="0" font-size="28" text-anchor="end" fill="#000" transform="translate(147.5,2217.3) scale(1,1.04)">-0.02</text>
<line x1="164.6" y1="2207.3" x2="164.6" y2="2218.3" stroke="#111" stroke-width="2"/>
<line x1="193.93" y1="2207.3" x2="193.93" y2="2218.3" stroke="#111" stroke-width="2"/>
<line x1="223.27" y1="2207.3" x2="223.27" y2="2218.3" stroke="#111" stroke-width="2"/>
<line x1="252.6" y1="2207.3" x2="252.6" y2="2218.3" stroke="#111" stroke-width="2"/>
<line x1="281.93" y1="2207.3" x2="281.93" y2="2218.3" stroke="#111" stroke-width="2"/>
<line x1="311.27" y1="2207.3" x2="311.27" y2="2218.3" stroke="#111" stroke-width="2"/>
<line x1="340.6" y1="2207.3" x2="340.6" y2="2218.3" stroke="#111" stroke-width="2"/>
<line x1="369.93" y1="2207.3" x2="369.93" y2="2218.3" stroke="#111" stroke-width="2"/>
<line x1="399.27" y1="2207.3" x2="399.27" y2="2218.3" stroke="#111" stroke-width="2"/>
<line x1="428.6" y1="2207.3" x2="428.6" y2="2218.3" stroke="#111" stroke-width="2"/>
<text x="0" y="0" font-size="28" text-anchor="middle" fill="#000" transform="translate(164.6,2244.8) scale(1,1.04)">0</text>
<text x="0" y="0" font-size="28" text-anchor="middle" fill="#000" transform="translate(252.6,2244.8) scale(1,1.04)">60</text>
<text x="0" y="0" font-size="28" text-anchor="middle" fill="#000" transform="translate(340.6,2244.8) scale(1,1.04)">120</text>
<text x="0" y="0" font-size="28" text-anchor="middle" fill="#000" transform="translate(428.6,2244.8) scale(1,1.04)">180</text>
<text x="302.8" y="2285" font-size="33" text-anchor="middle" fill="#000">Severe attack duration (s)</text>
<text x="185" y="1977.3" font-size="23" text-anchor="start" fill="#000"><tspan font-style="italic">r</tspan> = 0.30</text>
<text x="185" y="2007.3" font-size="23" text-anchor="start" fill="#000"><tspan font-style="italic">p</tspan> = 0.21</text>
<text x="0" y="0" font-size="33" text-anchor="middle" fill="#000" transform="translate(69.5,2092.4) rotate(-90)">Δ HRV</text>
<circle cx="368.09" cy="1972.3" r="5.3" fill="#FF00FF"/>
<circle cx="165.56" cy="2055.58" r="5.3" fill="#FF00FF"/>
<circle cx="165.56" cy="2075.23" r="5.3" fill="#FF00FF"/>
<circle cx="303.8" cy="2076.56" r="5.3" fill="#FF00FF"/>
<circle cx="346.77" cy="2084.89" r="5.3" fill="#FF00FF"/>
<circle cx="406.73" cy="2101.21" r="5.3" fill="#FF00FF"/>
<circle cx="314.46" cy="2122.2" r="5.3" fill="#FF00FF"/>
<circle cx="272.49" cy="2093.22" r="5.3" fill="#14A914"/>
<circle cx="250.17" cy="2112.54" r="5.3" fill="#14A914"/>
<circle cx="165.56" cy="2143.52" r="5.3" fill="#14A914"/>
<circle cx="392.07" cy="2139.85" r="5.3" fill="#14A914"/>
<circle cx="342.11" cy="2157.84" r="5.3" fill="#14A914"/>
<circle cx="344.1" cy="2169.83" r="5.3" fill="#14A914"/>
<circle cx="272.49" cy="2172.83" r="5.3" fill="#14A914"/>
<circle cx="191.54" cy="2180.16" r="5.3" fill="#14A914"/>
<circle cx="165.56" cy="2187.16" r="5.3" fill="#14A914"/>
<circle cx="165.56" cy="2199.15" r="5.3" fill="#14A914"/>
<circle cx="165.56" cy="2206.48" r="5.3" fill="#14A914"/>
<circle cx="310.13" cy="2203.81" r="5.3" fill="#14A914"/>
<line x1="610" y1="1941" x2="610" y2="2208.3" stroke="#111" stroke-width="2.2"/>
<line x1="610" y1="2207.3" x2="874" y2="2207.3" stroke="#111" stroke-width="2.2"/>
<line x1="599.5" y1="2207.35" x2="610" y2="2207.35" stroke="#111" stroke-width="2"/>
<line x1="599.5" y1="2174.2" x2="610" y2="2174.2" stroke="#111" stroke-width="2"/>
<line x1="599.5" y1="2141.05" x2="610" y2="2141.05" stroke="#111" stroke-width="2"/>
<line x1="599.5" y1="2107.9" x2="610" y2="2107.9" stroke="#111" stroke-width="2"/>
<line x1="599.5" y1="2074.75" x2="610" y2="2074.75" stroke="#111" stroke-width="2"/>
<line x1="599.5" y1="2041.6" x2="610" y2="2041.6" stroke="#111" stroke-width="2"/>
<line x1="599.5" y1="2008.45" x2="610" y2="2008.45" stroke="#111" stroke-width="2"/>
<line x1="599.5" y1="1975.3" x2="610" y2="1975.3" stroke="#111" stroke-width="2"/>
<line x1="599.5" y1="1942.15" x2="610" y2="1942.15" stroke="#111" stroke-width="2"/>
<text x="0" y="0" font-size="28" text-anchor="end" fill="#000" transform="translate(590,1985) scale(1,1.04)">3</text>
<text x="0" y="0" font-size="28" text-anchor="end" fill="#000" transform="translate(590,2051.6) scale(1,1.04)">2</text>
<text x="0" y="0" font-size="28" text-anchor="end" fill="#000" transform="translate(590,2117.6) scale(1,1.04)">1</text>
<text x="0" y="0" font-size="28" text-anchor="end" fill="#000" transform="translate(590,2184.2) scale(1,1.04)">0</text>
<text x="0" y="0" font-size="28" text-anchor="end" fill="#000" transform="translate(590,2217.3) scale(1,1.04)">-0.5</text>
<line x1="610" y1="2207.3" x2="610" y2="2218.3" stroke="#111" stroke-width="2"/>
<line x1="639.33" y1="2207.3" x2="639.33" y2="2218.3" stroke="#111" stroke-width="2"/>
<line x1="668.67" y1="2207.3" x2="668.67" y2="2218.3" stroke="#111" stroke-width="2"/>
<line x1="698" y1="2207.3" x2="698" y2="2218.3" stroke="#111" stroke-width="2"/>
<line x1="727.33" y1="2207.3" x2="727.33" y2="2218.3" stroke="#111" stroke-width="2"/>
<line x1="756.67" y1="2207.3" x2="756.67" y2="2218.3" stroke="#111" stroke-width="2"/>
<line x1="786" y1="2207.3" x2="786" y2="2218.3" stroke="#111" stroke-width="2"/>
<line x1="815.33" y1="2207.3" x2="815.33" y2="2218.3" stroke="#111" stroke-width="2"/>
<line x1="844.67" y1="2207.3" x2="844.67" y2="2218.3" stroke="#111" stroke-width="2"/>
<line x1="874" y1="2207.3" x2="874" y2="2218.3" stroke="#111" stroke-width="2"/>
<text x="0" y="0" font-size="28" text-anchor="middle" fill="#000" transform="translate(610,2244.8) scale(1,1.04)">0</text>
<text x="0" y="0" font-size="28" text-anchor="middle" fill="#000" transform="translate(698,2244.8) scale(1,1.04)">60</text>
<text x="0" y="0" font-size="28" text-anchor="middle" fill="#000" transform="translate(786,2244.8) scale(1,1.04)">120</text>
<text x="0" y="0" font-size="28" text-anchor="middle" fill="#000" transform="translate(874,2244.8) scale(1,1.04)">180</text>
<text x="747.2" y="2285" font-size="33" text-anchor="middle" fill="#000">Severe attack duration (s)</text>
<text x="630.7" y="1977.3" font-size="23" text-anchor="start" fill="#000"><tspan font-style="italic">r</tspan> = 0.26</text>
<text x="630.7" y="2007.3" font-size="23" text-anchor="start" fill="#000"><tspan font-style="italic">p</tspan> = 0.27</text>
<text x="0" y="0" font-size="33" text-anchor="middle" fill="#000" transform="translate(530.3,2091.8) rotate(-90)">Δ Arr rate (/min)</text>
<circle cx="609.9" cy="2169.83" r="5.3" fill="#14A914"/>
<circle cx="635.55" cy="2165.5" r="5.3" fill="#14A914"/>
<circle cx="694.51" cy="2172.17" r="5.3" fill="#14A914"/>
<circle cx="715.83" cy="2169.83" r="5.3" fill="#14A914"/>
<circle cx="715.83" cy="2174.5" r="5.3" fill="#14A914"/>
<circle cx="753.8" cy="2172.17" r="5.3" fill="#14A914"/>
<circle cx="786.45" cy="2174.5" r="5.3" fill="#14A914"/>
<circle cx="786.45" cy="2187.49" r="5.3" fill="#14A914"/>
<circle cx="835.75" cy="2174.5" r="5.3" fill="#14A914"/>
<circle cx="812.43" cy="1962.31" r="5.3" fill="#FF00FF"/>
<circle cx="609.9" cy="2052.91" r="5.3" fill="#FF00FF"/>
<circle cx="850.41" cy="2061.57" r="5.3" fill="#FF00FF"/>
<circle cx="748.47" cy="2132.19" r="5.3" fill="#FF00FF"/>
<circle cx="758.8" cy="2156.84" r="5.3" fill="#FF00FF"/>
<circle cx="790.45" cy="2174.5" r="5.3" fill="#FF00FF"/>
<circle cx="609.9" cy="2174.5" r="5.3" fill="#FF00FF"/>
</svg></body></html>
